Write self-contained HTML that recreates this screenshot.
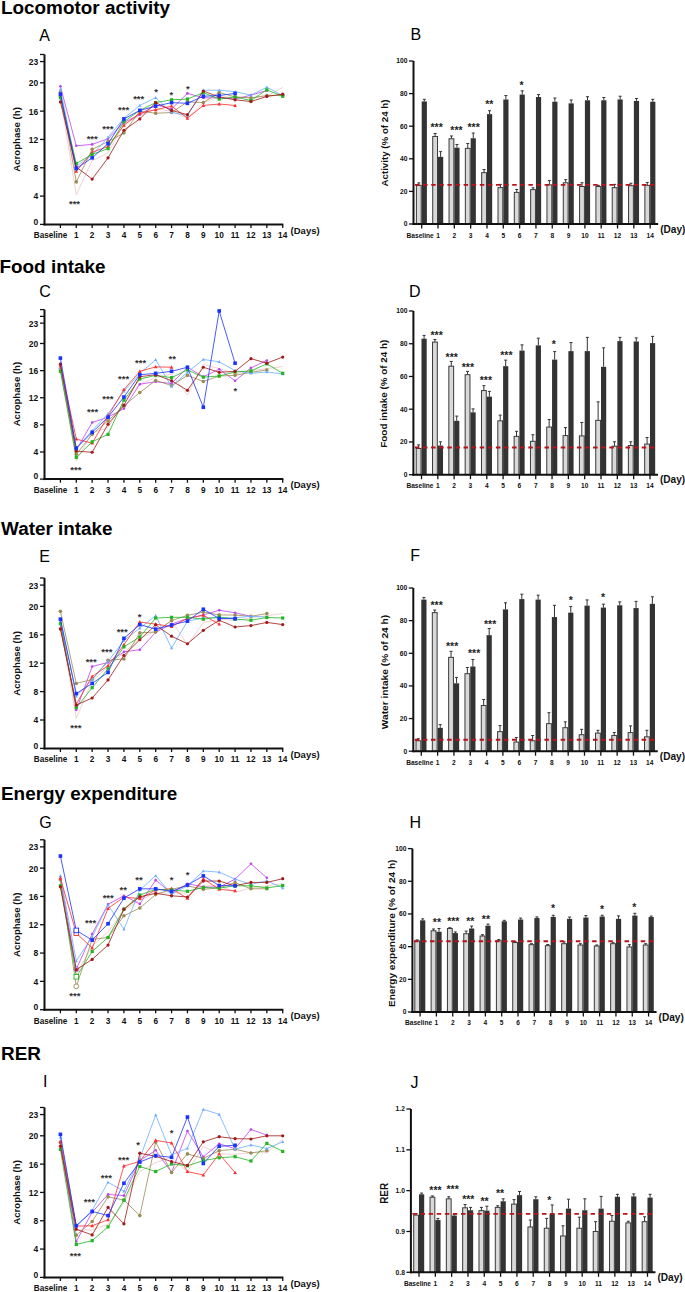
<!DOCTYPE html>
<html><head><meta charset="utf-8"><style>
html,body{margin:0;padding:0;background:#fff;width:685px;height:1292px;overflow:hidden}
svg{display:block}
text{font-family:"Liberation Sans", sans-serif}
</style></head><body>
<svg width="685" height="1292" viewBox="0 0 685 1292" font-family='"Liberation Sans", sans-serif'><text x="1.00" y="14.00" font-size="18.9" font-weight="bold" text-anchor="start" fill="#000">Locomotor activity</text>
<text x="-0.50" y="272.50" font-size="18.9" font-weight="bold" text-anchor="start" fill="#000">Food intake</text>
<text x="1.00" y="534.50" font-size="18.9" font-weight="bold" text-anchor="start" fill="#000">Water intake</text>
<text x="1.00" y="799.50" font-size="18.9" font-weight="bold" text-anchor="start" fill="#000">Energy expenditure</text>
<text x="1.00" y="1060.00" font-size="18.9" font-weight="bold" text-anchor="start" fill="#000">RER</text>
<text x="39.20" y="40.70" font-size="16" font-weight="normal" text-anchor="start" fill="#000">A</text>
<path d="M60.40 96.96 L76.28 194.66 L92.16 160.68 L108.04 152.89 L123.92 123.86 L139.80 115.37 L155.68 109.00 L171.56 111.12 L187.44 118.20 L203.32 102.62 L219.20 96.96 L235.08 96.96 L250.96 97.67 L266.84 96.25 L282.72 87.47" fill="none" stroke="#e6b4b4" stroke-width="0.6" stroke-linejoin="round"/>
<path d="M60.40 86.34 L76.28 145.81 L92.16 144.40 L108.04 138.73 L123.92 122.45 L139.80 114.66 L155.68 104.75 L171.56 109.00 L187.44 93.42 L203.32 97.88 L219.20 97.67 L235.08 99.08 L250.96 95.12 L266.84 90.59" fill="none" stroke="#c040f0" stroke-width="0.8" stroke-linejoin="round"/>
<circle cx="60.40" cy="86.34" r="1.30" fill="#c040f0"/>
<circle cx="76.28" cy="145.81" r="1.30" fill="#c040f0"/>
<circle cx="92.16" cy="144.40" r="1.30" fill="#c040f0"/>
<circle cx="108.04" cy="138.73" r="1.30" fill="#c040f0"/>
<circle cx="123.92" cy="122.45" r="1.30" fill="#c040f0"/>
<circle cx="139.80" cy="114.66" r="1.30" fill="#c040f0"/>
<circle cx="155.68" cy="104.75" r="1.30" fill="#c040f0"/>
<circle cx="171.56" cy="109.00" r="1.30" fill="#c040f0"/>
<circle cx="187.44" cy="93.42" r="1.30" fill="#c040f0"/>
<circle cx="203.32" cy="97.88" r="1.30" fill="#c040f0"/>
<circle cx="219.20" cy="97.67" r="1.30" fill="#c040f0"/>
<circle cx="235.08" cy="99.08" r="1.30" fill="#c040f0"/>
<circle cx="250.96" cy="95.12" r="1.30" fill="#c040f0"/>
<circle cx="266.84" cy="90.59" r="1.30" fill="#c040f0"/>
<path d="M60.40 92.00 L76.28 181.92 L92.16 149.35 L108.04 141.56 L123.92 133.07 L139.80 111.12 L155.68 113.24 L171.56 112.54 L187.44 101.92 L203.32 102.62 L219.20 92.36 L235.08 96.96 L250.96 97.88 L266.84 95.54 L282.72 95.54" fill="none" stroke="#9a8a55" stroke-width="0.8" stroke-linejoin="round"/>
<circle cx="60.40" cy="92.00" r="1.80" fill="#9a8a55"/>
<circle cx="76.28" cy="181.92" r="1.80" fill="#9a8a55"/>
<circle cx="92.16" cy="149.35" r="1.80" fill="#9a8a55"/>
<circle cx="108.04" cy="141.56" r="1.80" fill="#9a8a55"/>
<circle cx="123.92" cy="133.07" r="1.80" fill="#9a8a55"/>
<circle cx="139.80" cy="111.12" r="1.80" fill="#9a8a55"/>
<circle cx="155.68" cy="113.24" r="1.80" fill="#9a8a55"/>
<circle cx="171.56" cy="112.54" r="1.80" fill="#9a8a55"/>
<circle cx="187.44" cy="101.92" r="1.80" fill="#9a8a55"/>
<circle cx="203.32" cy="102.62" r="1.80" fill="#9a8a55"/>
<circle cx="219.20" cy="92.36" r="1.80" fill="#9a8a55"/>
<circle cx="235.08" cy="96.96" r="1.80" fill="#9a8a55"/>
<circle cx="250.96" cy="97.88" r="1.80" fill="#9a8a55"/>
<circle cx="266.84" cy="95.54" r="1.80" fill="#9a8a55"/>
<circle cx="282.72" cy="95.54" r="1.80" fill="#9a8a55"/>
<path d="M60.40 89.17 L76.28 166.34 L92.16 155.02 L108.04 137.32 L123.92 118.20 L139.80 105.46 L155.68 97.67 L171.56 112.54 L187.44 115.37 L203.32 90.23 L219.20 90.23 L235.08 91.65 L250.96 95.12 L266.84 87.19 L282.72 95.54" fill="none" stroke="#6aaeff" stroke-width="0.8" stroke-linejoin="round"/>
<path d="M60.40 87.41 L62.00 90.45 L58.80 90.45Z" fill="#6aaeff"/>
<path d="M76.28 164.58 L77.88 167.62 L74.68 167.62Z" fill="#6aaeff"/>
<path d="M92.16 153.26 L93.76 156.30 L90.56 156.30Z" fill="#6aaeff"/>
<path d="M108.04 135.56 L109.64 138.60 L106.44 138.60Z" fill="#6aaeff"/>
<path d="M123.92 116.44 L125.52 119.48 L122.32 119.48Z" fill="#6aaeff"/>
<path d="M139.80 103.70 L141.40 106.74 L138.20 106.74Z" fill="#6aaeff"/>
<path d="M155.68 95.91 L157.28 98.95 L154.08 98.95Z" fill="#6aaeff"/>
<path d="M171.56 110.78 L173.16 113.82 L169.96 113.82Z" fill="#6aaeff"/>
<path d="M187.44 113.61 L189.04 116.65 L185.84 116.65Z" fill="#6aaeff"/>
<path d="M203.32 88.47 L204.92 91.51 L201.72 91.51Z" fill="#6aaeff"/>
<path d="M219.20 88.47 L220.80 91.51 L217.60 91.51Z" fill="#6aaeff"/>
<path d="M235.08 89.89 L236.68 92.93 L233.48 92.93Z" fill="#6aaeff"/>
<path d="M250.96 93.36 L252.56 96.40 L249.36 96.40Z" fill="#6aaeff"/>
<path d="M266.84 85.43 L268.44 88.47 L265.24 88.47Z" fill="#6aaeff"/>
<path d="M282.72 93.78 L284.32 96.82 L281.12 96.82Z" fill="#6aaeff"/>
<path d="M60.40 95.54 L76.28 171.30 L92.16 152.18 L108.04 146.52 L123.92 125.28 L139.80 113.24 L155.68 109.70 L171.56 106.16 L187.44 118.20 L203.32 105.46 L219.20 104.04 L235.08 105.46" fill="none" stroke="#ff2a2a" stroke-width="0.8" stroke-linejoin="round"/>
<path d="M60.40 93.56 L62.20 96.98 L58.60 96.98Z" fill="#ff2a2a"/>
<path d="M76.28 169.32 L78.08 172.74 L74.48 172.74Z" fill="#ff2a2a"/>
<path d="M92.16 150.20 L93.96 153.62 L90.36 153.62Z" fill="#ff2a2a"/>
<path d="M108.04 144.54 L109.84 147.96 L106.24 147.96Z" fill="#ff2a2a"/>
<path d="M123.92 123.30 L125.72 126.72 L122.12 126.72Z" fill="#ff2a2a"/>
<path d="M139.80 111.26 L141.60 114.68 L138.00 114.68Z" fill="#ff2a2a"/>
<path d="M155.68 107.72 L157.48 111.14 L153.88 111.14Z" fill="#ff2a2a"/>
<path d="M171.56 104.18 L173.36 107.60 L169.76 107.60Z" fill="#ff2a2a"/>
<path d="M187.44 116.22 L189.24 119.64 L185.64 119.64Z" fill="#ff2a2a"/>
<path d="M203.32 103.48 L205.12 106.90 L201.52 106.90Z" fill="#ff2a2a"/>
<path d="M219.20 102.06 L221.00 105.48 L217.40 105.48Z" fill="#ff2a2a"/>
<path d="M235.08 103.48 L236.88 106.90 L233.28 106.90Z" fill="#ff2a2a"/>
<path d="M60.40 97.67 L76.28 163.51 L92.16 154.31 L108.04 148.64 L123.92 121.74 L139.80 110.41 L155.68 102.62 L171.56 99.79 L187.44 99.08 L203.32 92.71 L219.20 99.08 L235.08 96.96 L250.96 100.50 L266.84 89.88 L282.72 96.25" fill="none" stroke="#22b422" stroke-width="0.8" stroke-linejoin="round"/>
<rect x="58.80" y="96.07" width="3.20" height="3.20" fill="#22b422"/>
<rect x="74.68" y="161.91" width="3.20" height="3.20" fill="#22b422"/>
<rect x="90.56" y="152.71" width="3.20" height="3.20" fill="#22b422"/>
<rect x="106.44" y="147.04" width="3.20" height="3.20" fill="#22b422"/>
<rect x="122.32" y="120.14" width="3.20" height="3.20" fill="#22b422"/>
<rect x="138.20" y="108.81" width="3.20" height="3.20" fill="#22b422"/>
<rect x="154.08" y="101.02" width="3.20" height="3.20" fill="#22b422"/>
<rect x="169.96" y="98.19" width="3.20" height="3.20" fill="#22b422"/>
<rect x="185.84" y="97.48" width="3.20" height="3.20" fill="#22b422"/>
<rect x="201.72" y="91.11" width="3.20" height="3.20" fill="#22b422"/>
<rect x="217.60" y="97.48" width="3.20" height="3.20" fill="#22b422"/>
<rect x="233.48" y="95.36" width="3.20" height="3.20" fill="#22b422"/>
<rect x="249.36" y="98.90" width="3.20" height="3.20" fill="#22b422"/>
<rect x="265.24" y="88.28" width="3.20" height="3.20" fill="#22b422"/>
<rect x="281.12" y="94.65" width="3.20" height="3.20" fill="#22b422"/>
<path d="M60.40 101.92 L76.28 167.05 L92.16 179.09 L108.04 157.85 L123.92 130.24 L139.80 118.91 L155.68 102.62 L171.56 110.41 L187.44 114.66 L203.32 91.01 L219.20 96.96 L235.08 99.79 L250.96 101.56 L266.84 96.46 L282.72 94.13" fill="none" stroke="#a01818" stroke-width="0.8" stroke-linejoin="round"/>
<circle cx="60.40" cy="101.92" r="1.60" fill="#a01818"/>
<circle cx="76.28" cy="167.05" r="1.60" fill="#a01818"/>
<circle cx="92.16" cy="179.09" r="1.60" fill="#a01818"/>
<circle cx="108.04" cy="157.85" r="1.60" fill="#a01818"/>
<circle cx="123.92" cy="130.24" r="1.60" fill="#a01818"/>
<circle cx="139.80" cy="118.91" r="1.60" fill="#a01818"/>
<circle cx="155.68" cy="102.62" r="1.60" fill="#a01818"/>
<circle cx="171.56" cy="110.41" r="1.60" fill="#a01818"/>
<circle cx="187.44" cy="114.66" r="1.60" fill="#a01818"/>
<circle cx="203.32" cy="91.01" r="1.60" fill="#a01818"/>
<circle cx="219.20" cy="96.96" r="1.60" fill="#a01818"/>
<circle cx="235.08" cy="99.79" r="1.60" fill="#a01818"/>
<circle cx="250.96" cy="101.56" r="1.60" fill="#a01818"/>
<circle cx="266.84" cy="96.46" r="1.60" fill="#a01818"/>
<circle cx="282.72" cy="94.13" r="1.60" fill="#a01818"/>
<path d="M60.40 94.13 L76.28 168.47 L92.16 157.85 L108.04 143.69 L123.92 118.91 L139.80 110.41 L155.68 106.16 L171.56 102.62 L187.44 103.33 L203.32 96.25 L219.20 95.54 L235.08 93.42" fill="none" stroke="#1a32ff" stroke-width="0.8" stroke-linejoin="round"/>
<rect x="58.60" y="92.33" width="3.60" height="3.60" fill="#1a32ff"/>
<rect x="74.48" y="166.67" width="3.60" height="3.60" fill="#1a32ff"/>
<rect x="90.36" y="156.05" width="3.60" height="3.60" fill="#1a32ff"/>
<rect x="106.24" y="141.89" width="3.60" height="3.60" fill="#1a32ff"/>
<rect x="122.12" y="117.11" width="3.60" height="3.60" fill="#1a32ff"/>
<rect x="138.00" y="108.61" width="3.60" height="3.60" fill="#1a32ff"/>
<rect x="153.88" y="104.36" width="3.60" height="3.60" fill="#1a32ff"/>
<rect x="169.76" y="100.82" width="3.60" height="3.60" fill="#1a32ff"/>
<rect x="185.64" y="101.53" width="3.60" height="3.60" fill="#1a32ff"/>
<rect x="201.52" y="94.45" width="3.60" height="3.60" fill="#1a32ff"/>
<rect x="217.40" y="93.74" width="3.60" height="3.60" fill="#1a32ff"/>
<rect x="233.28" y="91.62" width="3.60" height="3.60" fill="#1a32ff"/>
<line x1="44.50" y1="54.48" x2="44.50" y2="225.40" stroke="#111" stroke-width="2"/>
<line x1="40.00" y1="54.48" x2="44.50" y2="54.48" stroke="#111" stroke-width="1.3"/>
<line x1="40.00" y1="224.40" x2="44.50" y2="224.40" stroke="#111" stroke-width="1.3"/>
<text transform="translate(38.20 224.60) scale(0.9 1)" font-size="9.4" font-weight="bold" text-anchor="end" fill="#111">0</text>
<line x1="40.00" y1="196.08" x2="44.50" y2="196.08" stroke="#111" stroke-width="1.3"/>
<text transform="translate(38.20 199.48) scale(0.9 1)" font-size="9.4" font-weight="bold" text-anchor="end" fill="#111">4</text>
<line x1="40.00" y1="167.76" x2="44.50" y2="167.76" stroke="#111" stroke-width="1.3"/>
<text transform="translate(38.20 171.16) scale(0.9 1)" font-size="9.4" font-weight="bold" text-anchor="end" fill="#111">8</text>
<line x1="40.00" y1="139.44" x2="44.50" y2="139.44" stroke="#111" stroke-width="1.3"/>
<text transform="translate(38.20 142.84) scale(0.9 1)" font-size="9.4" font-weight="bold" text-anchor="end" fill="#111">12</text>
<line x1="40.00" y1="111.12" x2="44.50" y2="111.12" stroke="#111" stroke-width="1.3"/>
<text transform="translate(38.20 114.52) scale(0.9 1)" font-size="9.4" font-weight="bold" text-anchor="end" fill="#111">16</text>
<line x1="40.00" y1="82.80" x2="44.50" y2="82.80" stroke="#111" stroke-width="1.3"/>
<text transform="translate(38.20 86.20) scale(0.9 1)" font-size="9.4" font-weight="bold" text-anchor="end" fill="#111">20</text>
<line x1="40.00" y1="61.56" x2="44.50" y2="61.56" stroke="#111" stroke-width="1.3"/>
<text transform="translate(38.20 64.96) scale(0.9 1)" font-size="9.4" font-weight="bold" text-anchor="end" fill="#111">23</text>
<line x1="43.50" y1="224.40" x2="283.32" y2="224.40" stroke="#111" stroke-width="2"/>
<line x1="60.40" y1="224.40" x2="60.40" y2="228.00" stroke="#111" stroke-width="1.3"/>
<line x1="76.28" y1="224.40" x2="76.28" y2="228.00" stroke="#111" stroke-width="1.3"/>
<text transform="translate(76.28 238.20) scale(0.88 1)" font-size="9.4" font-weight="bold" text-anchor="middle" fill="#111">1</text>
<line x1="92.16" y1="224.40" x2="92.16" y2="228.00" stroke="#111" stroke-width="1.3"/>
<text transform="translate(92.16 238.20) scale(0.88 1)" font-size="9.4" font-weight="bold" text-anchor="middle" fill="#111">2</text>
<line x1="108.04" y1="224.40" x2="108.04" y2="228.00" stroke="#111" stroke-width="1.3"/>
<text transform="translate(108.04 238.20) scale(0.88 1)" font-size="9.4" font-weight="bold" text-anchor="middle" fill="#111">3</text>
<line x1="123.92" y1="224.40" x2="123.92" y2="228.00" stroke="#111" stroke-width="1.3"/>
<text transform="translate(123.92 238.20) scale(0.88 1)" font-size="9.4" font-weight="bold" text-anchor="middle" fill="#111">4</text>
<line x1="139.80" y1="224.40" x2="139.80" y2="228.00" stroke="#111" stroke-width="1.3"/>
<text transform="translate(139.80 238.20) scale(0.88 1)" font-size="9.4" font-weight="bold" text-anchor="middle" fill="#111">5</text>
<line x1="155.68" y1="224.40" x2="155.68" y2="228.00" stroke="#111" stroke-width="1.3"/>
<text transform="translate(155.68 238.20) scale(0.88 1)" font-size="9.4" font-weight="bold" text-anchor="middle" fill="#111">6</text>
<line x1="171.56" y1="224.40" x2="171.56" y2="228.00" stroke="#111" stroke-width="1.3"/>
<text transform="translate(171.56 238.20) scale(0.88 1)" font-size="9.4" font-weight="bold" text-anchor="middle" fill="#111">7</text>
<line x1="187.44" y1="224.40" x2="187.44" y2="228.00" stroke="#111" stroke-width="1.3"/>
<text transform="translate(187.44 238.20) scale(0.88 1)" font-size="9.4" font-weight="bold" text-anchor="middle" fill="#111">8</text>
<line x1="203.32" y1="224.40" x2="203.32" y2="228.00" stroke="#111" stroke-width="1.3"/>
<text transform="translate(203.32 238.20) scale(0.88 1)" font-size="9.4" font-weight="bold" text-anchor="middle" fill="#111">9</text>
<line x1="219.20" y1="224.40" x2="219.20" y2="228.00" stroke="#111" stroke-width="1.3"/>
<text transform="translate(219.20 238.20) scale(0.88 1)" font-size="9.4" font-weight="bold" text-anchor="middle" fill="#111">10</text>
<line x1="235.08" y1="224.40" x2="235.08" y2="228.00" stroke="#111" stroke-width="1.3"/>
<text transform="translate(235.08 238.20) scale(0.88 1)" font-size="9.4" font-weight="bold" text-anchor="middle" fill="#111">11</text>
<line x1="250.96" y1="224.40" x2="250.96" y2="228.00" stroke="#111" stroke-width="1.3"/>
<text transform="translate(250.96 238.20) scale(0.88 1)" font-size="9.4" font-weight="bold" text-anchor="middle" fill="#111">12</text>
<line x1="266.84" y1="224.40" x2="266.84" y2="228.00" stroke="#111" stroke-width="1.3"/>
<text transform="translate(266.84 238.20) scale(0.88 1)" font-size="9.4" font-weight="bold" text-anchor="middle" fill="#111">13</text>
<line x1="282.72" y1="224.40" x2="282.72" y2="228.00" stroke="#111" stroke-width="1.3"/>
<text transform="translate(282.72 238.20) scale(0.88 1)" font-size="9.4" font-weight="bold" text-anchor="middle" fill="#111">14</text>
<text transform="translate(67.40 238.20) scale(0.91 1)" font-size="9.0" font-weight="bold" text-anchor="end" fill="#111">Baseline</text>
<text x="290.60" y="233.60" font-size="9.5" font-weight="bold" text-anchor="start" fill="#111">(Days)</text>
<text x="20.10" y="139.40" font-size="9.6" font-weight="bold" text-anchor="middle" fill="#111" transform="rotate(-90 20.10 139.40)">Acrophase (h)</text>
<text x="74.50" y="207.10" font-size="9.5" font-weight="bold" text-anchor="middle" fill="#333">***</text>
<text x="92.20" y="142.20" font-size="9.5" font-weight="bold" text-anchor="middle" fill="#333">***</text>
<text x="107.90" y="132.30" font-size="9.5" font-weight="bold" text-anchor="middle" fill="#333">***</text>
<text x="123.60" y="113.00" font-size="9.5" font-weight="bold" text-anchor="middle" fill="#333">***</text>
<text x="138.70" y="102.00" font-size="9.5" font-weight="bold" text-anchor="middle" fill="#333">***</text>
<text x="156.00" y="94.60" font-size="9.5" font-weight="bold" text-anchor="middle" fill="#333">*</text>
<text x="171.40" y="97.60" font-size="9.5" font-weight="bold" text-anchor="middle" fill="#333">*</text>
<text x="187.80" y="91.80" font-size="9.5" font-weight="bold" text-anchor="middle" fill="#333">*</text>
<text x="39.20" y="297.00" font-size="16" font-weight="normal" text-anchor="start" fill="#000">C</text>
<path d="M60.40 367.23 L76.28 460.79 L92.16 433.00 L108.04 427.57 L123.92 401.13 L139.80 384.18 L155.68 377.40 L171.56 374.01 L187.44 395.03 L203.32 364.52 L219.20 368.59 L235.08 374.01 L250.96 370.62 L266.84 368.59 L282.72 366.55" fill="none" stroke="#e6b4b4" stroke-width="0.6" stroke-linejoin="round"/>
<path d="M60.40 363.84 L76.28 449.95 L92.16 422.49 L108.04 417.20 L123.92 408.59 L139.80 384.18 L155.68 381.81 L171.56 383.50 L187.44 367.23 L203.32 376.72 L219.20 369.26 L235.08 380.79 L250.96 367.91 L266.84 360.45" fill="none" stroke="#c040f0" stroke-width="0.8" stroke-linejoin="round"/>
<circle cx="60.40" cy="363.84" r="1.30" fill="#c040f0"/>
<circle cx="76.28" cy="449.95" r="1.30" fill="#c040f0"/>
<circle cx="92.16" cy="422.49" r="1.30" fill="#c040f0"/>
<circle cx="108.04" cy="417.20" r="1.30" fill="#c040f0"/>
<circle cx="123.92" cy="408.59" r="1.30" fill="#c040f0"/>
<circle cx="139.80" cy="384.18" r="1.30" fill="#c040f0"/>
<circle cx="155.68" cy="381.81" r="1.30" fill="#c040f0"/>
<circle cx="171.56" cy="383.50" r="1.30" fill="#c040f0"/>
<circle cx="187.44" cy="367.23" r="1.30" fill="#c040f0"/>
<circle cx="203.32" cy="376.72" r="1.30" fill="#c040f0"/>
<circle cx="219.20" cy="369.26" r="1.30" fill="#c040f0"/>
<circle cx="235.08" cy="380.79" r="1.30" fill="#c040f0"/>
<circle cx="250.96" cy="367.91" r="1.30" fill="#c040f0"/>
<circle cx="266.84" cy="360.45" r="1.30" fill="#c040f0"/>
<path d="M60.40 368.59 L76.28 454.35 L92.16 434.35 L108.04 420.79 L123.92 405.88 L139.80 392.52 L155.68 380.45 L171.56 385.54 L187.44 375.37 L203.32 381.47 L219.20 376.04 L235.08 375.37 L250.96 372.31 L266.84 369.94" fill="none" stroke="#9a8a55" stroke-width="0.8" stroke-linejoin="round"/>
<circle cx="60.40" cy="368.59" r="1.80" fill="#9a8a55"/>
<circle cx="76.28" cy="454.35" r="1.80" fill="#9a8a55"/>
<circle cx="92.16" cy="434.35" r="1.80" fill="#9a8a55"/>
<circle cx="108.04" cy="420.79" r="1.80" fill="#9a8a55"/>
<circle cx="123.92" cy="405.88" r="1.80" fill="#9a8a55"/>
<circle cx="139.80" cy="392.52" r="1.80" fill="#9a8a55"/>
<circle cx="155.68" cy="380.45" r="1.80" fill="#9a8a55"/>
<circle cx="171.56" cy="385.54" r="1.80" fill="#9a8a55"/>
<circle cx="187.44" cy="375.37" r="1.80" fill="#9a8a55"/>
<circle cx="203.32" cy="381.47" r="1.80" fill="#9a8a55"/>
<circle cx="219.20" cy="376.04" r="1.80" fill="#9a8a55"/>
<circle cx="235.08" cy="375.37" r="1.80" fill="#9a8a55"/>
<circle cx="250.96" cy="372.31" r="1.80" fill="#9a8a55"/>
<circle cx="266.84" cy="369.94" r="1.80" fill="#9a8a55"/>
<path d="M60.40 367.23 L76.28 448.59 L92.16 430.62 L108.04 413.67 L123.92 391.30 L139.80 373.33 L155.68 359.77 L171.56 386.55 L187.44 372.31 L203.32 359.43 L219.20 361.81 L235.08 370.62 L250.96 373.33 L266.84 371.98 L282.72 374.01" fill="none" stroke="#6aaeff" stroke-width="0.8" stroke-linejoin="round"/>
<path d="M60.40 365.47 L62.00 368.51 L58.80 368.51Z" fill="#6aaeff"/>
<path d="M76.28 446.83 L77.88 449.87 L74.68 449.87Z" fill="#6aaeff"/>
<path d="M92.16 428.86 L93.76 431.90 L90.56 431.90Z" fill="#6aaeff"/>
<path d="M108.04 411.91 L109.64 414.95 L106.44 414.95Z" fill="#6aaeff"/>
<path d="M123.92 389.54 L125.52 392.58 L122.32 392.58Z" fill="#6aaeff"/>
<path d="M139.80 371.57 L141.40 374.61 L138.20 374.61Z" fill="#6aaeff"/>
<path d="M155.68 358.01 L157.28 361.05 L154.08 361.05Z" fill="#6aaeff"/>
<path d="M171.56 384.79 L173.16 387.83 L169.96 387.83Z" fill="#6aaeff"/>
<path d="M187.44 370.56 L189.04 373.59 L185.84 373.59Z" fill="#6aaeff"/>
<path d="M203.32 357.67 L204.92 360.71 L201.72 360.71Z" fill="#6aaeff"/>
<path d="M219.20 360.05 L220.80 363.09 L217.60 363.09Z" fill="#6aaeff"/>
<path d="M235.08 368.86 L236.68 371.90 L233.48 371.90Z" fill="#6aaeff"/>
<path d="M250.96 371.57 L252.56 374.61 L249.36 374.61Z" fill="#6aaeff"/>
<path d="M266.84 370.22 L268.44 373.26 L265.24 373.26Z" fill="#6aaeff"/>
<path d="M282.72 372.25 L284.32 375.29 L281.12 375.29Z" fill="#6aaeff"/>
<path d="M60.40 365.20 L76.28 439.10 L92.16 443.17 L108.04 416.05 L123.92 389.60 L139.80 371.30 L155.68 366.89 L171.56 367.23" fill="none" stroke="#ff2a2a" stroke-width="0.8" stroke-linejoin="round"/>
<path d="M60.40 363.22 L62.20 366.64 L58.60 366.64Z" fill="#ff2a2a"/>
<path d="M76.28 437.12 L78.08 440.54 L74.48 440.54Z" fill="#ff2a2a"/>
<path d="M92.16 441.19 L93.96 444.61 L90.36 444.61Z" fill="#ff2a2a"/>
<path d="M108.04 414.07 L109.84 417.49 L106.24 417.49Z" fill="#ff2a2a"/>
<path d="M123.92 387.62 L125.72 391.04 L122.12 391.04Z" fill="#ff2a2a"/>
<path d="M139.80 369.32 L141.60 372.74 L138.00 372.74Z" fill="#ff2a2a"/>
<path d="M155.68 364.91 L157.48 368.33 L153.88 368.33Z" fill="#ff2a2a"/>
<path d="M171.56 365.25 L173.36 368.67 L169.76 368.67Z" fill="#ff2a2a"/>
<path d="M60.40 371.30 L76.28 457.40 L92.16 441.81 L108.04 434.35 L123.92 400.11 L139.80 379.10 L155.68 375.37 L171.56 377.67 L187.44 369.94 L203.32 377.13 L219.20 376.04 L235.08 371.98 L250.96 370.89 L266.84 363.84 L282.72 373.33" fill="none" stroke="#22b422" stroke-width="0.8" stroke-linejoin="round"/>
<rect x="58.80" y="369.70" width="3.20" height="3.20" fill="#22b422"/>
<rect x="74.68" y="455.80" width="3.20" height="3.20" fill="#22b422"/>
<rect x="90.56" y="440.21" width="3.20" height="3.20" fill="#22b422"/>
<rect x="106.44" y="432.75" width="3.20" height="3.20" fill="#22b422"/>
<rect x="122.32" y="398.51" width="3.20" height="3.20" fill="#22b422"/>
<rect x="138.20" y="377.50" width="3.20" height="3.20" fill="#22b422"/>
<rect x="154.08" y="373.77" width="3.20" height="3.20" fill="#22b422"/>
<rect x="169.96" y="376.07" width="3.20" height="3.20" fill="#22b422"/>
<rect x="185.84" y="368.34" width="3.20" height="3.20" fill="#22b422"/>
<rect x="201.72" y="375.53" width="3.20" height="3.20" fill="#22b422"/>
<rect x="217.60" y="374.44" width="3.20" height="3.20" fill="#22b422"/>
<rect x="233.48" y="370.38" width="3.20" height="3.20" fill="#22b422"/>
<rect x="249.36" y="369.29" width="3.20" height="3.20" fill="#22b422"/>
<rect x="265.24" y="362.24" width="3.20" height="3.20" fill="#22b422"/>
<rect x="281.12" y="371.73" width="3.20" height="3.20" fill="#22b422"/>
<path d="M60.40 364.18 L76.28 451.17 L92.16 452.25 L108.04 424.18 L123.92 405.20 L139.80 376.72 L155.68 374.69 L171.56 380.79 L187.44 390.28 L203.32 367.23 L219.20 372.31 L235.08 371.30 L250.96 358.69 L266.84 363.16 L282.72 357.06" fill="none" stroke="#a01818" stroke-width="0.8" stroke-linejoin="round"/>
<circle cx="60.40" cy="364.18" r="1.60" fill="#a01818"/>
<circle cx="76.28" cy="451.17" r="1.60" fill="#a01818"/>
<circle cx="92.16" cy="452.25" r="1.60" fill="#a01818"/>
<circle cx="108.04" cy="424.18" r="1.60" fill="#a01818"/>
<circle cx="123.92" cy="405.20" r="1.60" fill="#a01818"/>
<circle cx="139.80" cy="376.72" r="1.60" fill="#a01818"/>
<circle cx="155.68" cy="374.69" r="1.60" fill="#a01818"/>
<circle cx="171.56" cy="380.79" r="1.60" fill="#a01818"/>
<circle cx="187.44" cy="390.28" r="1.60" fill="#a01818"/>
<circle cx="203.32" cy="367.23" r="1.60" fill="#a01818"/>
<circle cx="219.20" cy="372.31" r="1.60" fill="#a01818"/>
<circle cx="235.08" cy="371.30" r="1.60" fill="#a01818"/>
<circle cx="250.96" cy="358.69" r="1.60" fill="#a01818"/>
<circle cx="266.84" cy="363.16" r="1.60" fill="#a01818"/>
<circle cx="282.72" cy="357.06" r="1.60" fill="#a01818"/>
<path d="M60.40 358.08 L76.28 448.12 L92.16 432.32 L108.04 417.20 L123.92 397.06 L139.80 374.69 L155.68 373.33 L171.56 371.30 L187.44 367.23 L203.32 407.23 L219.20 310.96 L235.08 363.16" fill="none" stroke="#1a32ff" stroke-width="0.8" stroke-linejoin="round"/>
<rect x="58.60" y="356.28" width="3.60" height="3.60" fill="#1a32ff"/>
<rect x="74.48" y="446.32" width="3.60" height="3.60" fill="#1a32ff"/>
<rect x="90.36" y="430.52" width="3.60" height="3.60" fill="#1a32ff"/>
<rect x="106.24" y="415.40" width="3.60" height="3.60" fill="#1a32ff"/>
<rect x="122.12" y="395.26" width="3.60" height="3.60" fill="#1a32ff"/>
<rect x="138.00" y="372.89" width="3.60" height="3.60" fill="#1a32ff"/>
<rect x="153.88" y="371.53" width="3.60" height="3.60" fill="#1a32ff"/>
<rect x="169.76" y="369.50" width="3.60" height="3.60" fill="#1a32ff"/>
<rect x="185.64" y="365.43" width="3.60" height="3.60" fill="#1a32ff"/>
<rect x="201.52" y="405.43" width="3.60" height="3.60" fill="#1a32ff"/>
<rect x="217.40" y="309.16" width="3.60" height="3.60" fill="#1a32ff"/>
<rect x="233.28" y="361.36" width="3.60" height="3.60" fill="#1a32ff"/>
<line x1="44.50" y1="309.60" x2="44.50" y2="480.10" stroke="#111" stroke-width="2"/>
<line x1="40.00" y1="309.60" x2="44.50" y2="309.60" stroke="#111" stroke-width="1.3"/>
<line x1="40.00" y1="316.38" x2="44.50" y2="316.38" stroke="#111" stroke-width="1.3"/>
<line x1="40.00" y1="479.10" x2="44.50" y2="479.10" stroke="#111" stroke-width="1.3"/>
<text transform="translate(38.20 479.30) scale(0.9 1)" font-size="9.4" font-weight="bold" text-anchor="end" fill="#111">0</text>
<line x1="40.00" y1="451.98" x2="44.50" y2="451.98" stroke="#111" stroke-width="1.3"/>
<text transform="translate(38.20 455.38) scale(0.9 1)" font-size="9.4" font-weight="bold" text-anchor="end" fill="#111">4</text>
<line x1="40.00" y1="424.86" x2="44.50" y2="424.86" stroke="#111" stroke-width="1.3"/>
<text transform="translate(38.20 428.26) scale(0.9 1)" font-size="9.4" font-weight="bold" text-anchor="end" fill="#111">8</text>
<line x1="40.00" y1="397.74" x2="44.50" y2="397.74" stroke="#111" stroke-width="1.3"/>
<text transform="translate(38.20 401.14) scale(0.9 1)" font-size="9.4" font-weight="bold" text-anchor="end" fill="#111">12</text>
<line x1="40.00" y1="370.62" x2="44.50" y2="370.62" stroke="#111" stroke-width="1.3"/>
<text transform="translate(38.20 374.02) scale(0.9 1)" font-size="9.4" font-weight="bold" text-anchor="end" fill="#111">16</text>
<line x1="40.00" y1="343.50" x2="44.50" y2="343.50" stroke="#111" stroke-width="1.3"/>
<text transform="translate(38.20 346.90) scale(0.9 1)" font-size="9.4" font-weight="bold" text-anchor="end" fill="#111">20</text>
<line x1="40.00" y1="323.16" x2="44.50" y2="323.16" stroke="#111" stroke-width="1.3"/>
<text transform="translate(38.20 326.56) scale(0.9 1)" font-size="9.4" font-weight="bold" text-anchor="end" fill="#111">23</text>
<line x1="43.50" y1="479.10" x2="283.32" y2="479.10" stroke="#111" stroke-width="2"/>
<line x1="60.40" y1="479.10" x2="60.40" y2="482.70" stroke="#111" stroke-width="1.3"/>
<line x1="76.28" y1="479.10" x2="76.28" y2="482.70" stroke="#111" stroke-width="1.3"/>
<text transform="translate(76.28 492.90) scale(0.88 1)" font-size="9.4" font-weight="bold" text-anchor="middle" fill="#111">1</text>
<line x1="92.16" y1="479.10" x2="92.16" y2="482.70" stroke="#111" stroke-width="1.3"/>
<text transform="translate(92.16 492.90) scale(0.88 1)" font-size="9.4" font-weight="bold" text-anchor="middle" fill="#111">2</text>
<line x1="108.04" y1="479.10" x2="108.04" y2="482.70" stroke="#111" stroke-width="1.3"/>
<text transform="translate(108.04 492.90) scale(0.88 1)" font-size="9.4" font-weight="bold" text-anchor="middle" fill="#111">3</text>
<line x1="123.92" y1="479.10" x2="123.92" y2="482.70" stroke="#111" stroke-width="1.3"/>
<text transform="translate(123.92 492.90) scale(0.88 1)" font-size="9.4" font-weight="bold" text-anchor="middle" fill="#111">4</text>
<line x1="139.80" y1="479.10" x2="139.80" y2="482.70" stroke="#111" stroke-width="1.3"/>
<text transform="translate(139.80 492.90) scale(0.88 1)" font-size="9.4" font-weight="bold" text-anchor="middle" fill="#111">5</text>
<line x1="155.68" y1="479.10" x2="155.68" y2="482.70" stroke="#111" stroke-width="1.3"/>
<text transform="translate(155.68 492.90) scale(0.88 1)" font-size="9.4" font-weight="bold" text-anchor="middle" fill="#111">6</text>
<line x1="171.56" y1="479.10" x2="171.56" y2="482.70" stroke="#111" stroke-width="1.3"/>
<text transform="translate(171.56 492.90) scale(0.88 1)" font-size="9.4" font-weight="bold" text-anchor="middle" fill="#111">7</text>
<line x1="187.44" y1="479.10" x2="187.44" y2="482.70" stroke="#111" stroke-width="1.3"/>
<text transform="translate(187.44 492.90) scale(0.88 1)" font-size="9.4" font-weight="bold" text-anchor="middle" fill="#111">8</text>
<line x1="203.32" y1="479.10" x2="203.32" y2="482.70" stroke="#111" stroke-width="1.3"/>
<text transform="translate(203.32 492.90) scale(0.88 1)" font-size="9.4" font-weight="bold" text-anchor="middle" fill="#111">9</text>
<line x1="219.20" y1="479.10" x2="219.20" y2="482.70" stroke="#111" stroke-width="1.3"/>
<text transform="translate(219.20 492.90) scale(0.88 1)" font-size="9.4" font-weight="bold" text-anchor="middle" fill="#111">10</text>
<line x1="235.08" y1="479.10" x2="235.08" y2="482.70" stroke="#111" stroke-width="1.3"/>
<text transform="translate(235.08 492.90) scale(0.88 1)" font-size="9.4" font-weight="bold" text-anchor="middle" fill="#111">11</text>
<line x1="250.96" y1="479.10" x2="250.96" y2="482.70" stroke="#111" stroke-width="1.3"/>
<text transform="translate(250.96 492.90) scale(0.88 1)" font-size="9.4" font-weight="bold" text-anchor="middle" fill="#111">12</text>
<line x1="266.84" y1="479.10" x2="266.84" y2="482.70" stroke="#111" stroke-width="1.3"/>
<text transform="translate(266.84 492.90) scale(0.88 1)" font-size="9.4" font-weight="bold" text-anchor="middle" fill="#111">13</text>
<line x1="282.72" y1="479.10" x2="282.72" y2="482.70" stroke="#111" stroke-width="1.3"/>
<text transform="translate(282.72 492.90) scale(0.88 1)" font-size="9.4" font-weight="bold" text-anchor="middle" fill="#111">14</text>
<text transform="translate(67.40 492.90) scale(0.91 1)" font-size="9.0" font-weight="bold" text-anchor="end" fill="#111">Baseline</text>
<text x="290.60" y="488.30" font-size="9.5" font-weight="bold" text-anchor="start" fill="#111">(Days)</text>
<text x="20.10" y="394.10" font-size="9.6" font-weight="bold" text-anchor="middle" fill="#111" transform="rotate(-90 20.10 394.10)">Acrophase (h)</text>
<text x="75.90" y="473.10" font-size="9.5" font-weight="bold" text-anchor="middle" fill="#333">***</text>
<text x="92.60" y="415.00" font-size="9.5" font-weight="bold" text-anchor="middle" fill="#333">***</text>
<text x="107.80" y="402.40" font-size="9.5" font-weight="bold" text-anchor="middle" fill="#333">***</text>
<text x="123.60" y="381.70" font-size="9.5" font-weight="bold" text-anchor="middle" fill="#333">***</text>
<text x="140.60" y="366.30" font-size="9.5" font-weight="bold" text-anchor="middle" fill="#333">***</text>
<text x="172.30" y="361.60" font-size="9.5" font-weight="bold" text-anchor="middle" fill="#333">**</text>
<text x="235.30" y="394.20" font-size="9.5" font-weight="bold" text-anchor="middle" fill="#333">*</text>
<text x="39.20" y="561.70" font-size="16" font-weight="normal" text-anchor="start" fill="#000">E</text>
<path d="M60.40 624.15 L76.28 718.30 L92.16 680.95 L108.04 666.75 L123.92 652.55 L139.80 638.35 L155.68 631.25 L171.56 620.60 L187.44 644.74 L203.32 622.73 L219.20 619.18 L235.08 620.60 L250.96 617.76 L266.84 615.63 L282.72 613.50" fill="none" stroke="#e6b4b4" stroke-width="0.6" stroke-linejoin="round"/>
<path d="M60.40 620.60 L76.28 710.06 L92.16 666.47 L108.04 662.49 L123.92 651.84 L139.80 649.71 L155.68 632.31 L171.56 624.15 L187.44 618.47 L203.32 614.92 L219.20 610.23 L235.08 612.79 L250.96 616.34" fill="none" stroke="#c040f0" stroke-width="0.8" stroke-linejoin="round"/>
<circle cx="60.40" cy="620.60" r="1.30" fill="#c040f0"/>
<circle cx="76.28" cy="710.06" r="1.30" fill="#c040f0"/>
<circle cx="92.16" cy="666.47" r="1.30" fill="#c040f0"/>
<circle cx="108.04" cy="662.49" r="1.30" fill="#c040f0"/>
<circle cx="123.92" cy="651.84" r="1.30" fill="#c040f0"/>
<circle cx="139.80" cy="649.71" r="1.30" fill="#c040f0"/>
<circle cx="155.68" cy="632.31" r="1.30" fill="#c040f0"/>
<circle cx="171.56" cy="624.15" r="1.30" fill="#c040f0"/>
<circle cx="187.44" cy="618.47" r="1.30" fill="#c040f0"/>
<circle cx="203.32" cy="614.92" r="1.30" fill="#c040f0"/>
<circle cx="219.20" cy="610.23" r="1.30" fill="#c040f0"/>
<circle cx="235.08" cy="612.79" r="1.30" fill="#c040f0"/>
<circle cx="250.96" cy="616.34" r="1.30" fill="#c040f0"/>
<path d="M60.40 611.37 L76.28 683.43 L92.16 679.53 L108.04 660.36 L123.92 658.94 L139.80 632.88 L155.68 631.96 L171.56 620.60 L187.44 615.42 L203.32 612.08 L219.20 614.92 L235.08 615.06 L250.96 616.34 L266.84 613.50" fill="none" stroke="#9a8a55" stroke-width="0.8" stroke-linejoin="round"/>
<circle cx="60.40" cy="611.37" r="1.80" fill="#9a8a55"/>
<circle cx="76.28" cy="683.43" r="1.80" fill="#9a8a55"/>
<circle cx="92.16" cy="679.53" r="1.80" fill="#9a8a55"/>
<circle cx="108.04" cy="660.36" r="1.80" fill="#9a8a55"/>
<circle cx="123.92" cy="658.94" r="1.80" fill="#9a8a55"/>
<circle cx="139.80" cy="632.88" r="1.80" fill="#9a8a55"/>
<circle cx="155.68" cy="631.96" r="1.80" fill="#9a8a55"/>
<circle cx="171.56" cy="620.60" r="1.80" fill="#9a8a55"/>
<circle cx="187.44" cy="615.42" r="1.80" fill="#9a8a55"/>
<circle cx="203.32" cy="612.08" r="1.80" fill="#9a8a55"/>
<circle cx="219.20" cy="614.92" r="1.80" fill="#9a8a55"/>
<circle cx="235.08" cy="615.06" r="1.80" fill="#9a8a55"/>
<circle cx="250.96" cy="616.34" r="1.80" fill="#9a8a55"/>
<circle cx="266.84" cy="613.50" r="1.80" fill="#9a8a55"/>
<path d="M60.40 618.83 L76.28 696.22 L92.16 679.53 L108.04 661.42 L123.92 640.48 L139.80 628.13 L155.68 615.63 L171.56 648.01 L187.44 621.31 L203.32 617.76 L219.20 617.76 L235.08 617.76 L250.96 616.34 L266.84 617.05" fill="none" stroke="#6aaeff" stroke-width="0.8" stroke-linejoin="round"/>
<path d="M60.40 617.07 L62.00 620.11 L58.80 620.11Z" fill="#6aaeff"/>
<path d="M76.28 694.46 L77.88 697.50 L74.68 697.50Z" fill="#6aaeff"/>
<path d="M92.16 677.77 L93.76 680.81 L90.56 680.81Z" fill="#6aaeff"/>
<path d="M108.04 659.66 L109.64 662.70 L106.44 662.70Z" fill="#6aaeff"/>
<path d="M123.92 638.72 L125.52 641.76 L122.32 641.76Z" fill="#6aaeff"/>
<path d="M139.80 626.37 L141.40 629.41 L138.20 629.41Z" fill="#6aaeff"/>
<path d="M155.68 613.87 L157.28 616.91 L154.08 616.91Z" fill="#6aaeff"/>
<path d="M171.56 646.25 L173.16 649.29 L169.96 649.29Z" fill="#6aaeff"/>
<path d="M187.44 619.55 L189.04 622.59 L185.84 622.59Z" fill="#6aaeff"/>
<path d="M203.32 616.00 L204.92 619.04 L201.72 619.04Z" fill="#6aaeff"/>
<path d="M219.20 616.00 L220.80 619.04 L217.60 619.04Z" fill="#6aaeff"/>
<path d="M235.08 616.00 L236.68 619.04 L233.48 619.04Z" fill="#6aaeff"/>
<path d="M250.96 614.58 L252.56 617.62 L249.36 617.62Z" fill="#6aaeff"/>
<path d="M266.84 615.29 L268.44 618.33 L265.24 618.33Z" fill="#6aaeff"/>
<path d="M60.40 627.70 L76.28 704.17 L92.16 676.41 L108.04 665.76 L123.92 644.74 L139.80 622.02 L155.68 624.15 L171.56 626.49 L187.44 618.47 L203.32 615.27 L219.20 624.15" fill="none" stroke="#ff2a2a" stroke-width="0.8" stroke-linejoin="round"/>
<path d="M60.40 625.72 L62.20 629.14 L58.60 629.14Z" fill="#ff2a2a"/>
<path d="M76.28 702.19 L78.08 705.61 L74.48 705.61Z" fill="#ff2a2a"/>
<path d="M92.16 674.43 L93.96 677.85 L90.36 677.85Z" fill="#ff2a2a"/>
<path d="M108.04 663.78 L109.84 667.20 L106.24 667.20Z" fill="#ff2a2a"/>
<path d="M123.92 642.76 L125.72 646.18 L122.12 646.18Z" fill="#ff2a2a"/>
<path d="M139.80 620.04 L141.60 623.46 L138.00 623.46Z" fill="#ff2a2a"/>
<path d="M155.68 622.17 L157.48 625.59 L153.88 625.59Z" fill="#ff2a2a"/>
<path d="M171.56 624.51 L173.36 627.93 L169.76 627.93Z" fill="#ff2a2a"/>
<path d="M187.44 616.49 L189.24 619.91 L185.64 619.91Z" fill="#ff2a2a"/>
<path d="M203.32 613.29 L205.12 616.72 L201.52 616.72Z" fill="#ff2a2a"/>
<path d="M219.20 622.17 L221.00 625.59 L217.40 625.59Z" fill="#ff2a2a"/>
<path d="M60.40 623.65 L76.28 707.72 L92.16 687.69 L108.04 668.88 L123.92 646.87 L139.80 636.93 L155.68 618.04 L171.56 617.33 L187.44 617.33 L203.32 619.18 L219.20 617.05 L235.08 619.18 L250.96 620.25 L266.84 617.48 L282.72 618.04" fill="none" stroke="#22b422" stroke-width="0.8" stroke-linejoin="round"/>
<rect x="58.80" y="622.05" width="3.20" height="3.20" fill="#22b422"/>
<rect x="74.68" y="706.12" width="3.20" height="3.20" fill="#22b422"/>
<rect x="90.56" y="686.09" width="3.20" height="3.20" fill="#22b422"/>
<rect x="106.44" y="667.28" width="3.20" height="3.20" fill="#22b422"/>
<rect x="122.32" y="645.27" width="3.20" height="3.20" fill="#22b422"/>
<rect x="138.20" y="635.33" width="3.20" height="3.20" fill="#22b422"/>
<rect x="154.08" y="616.44" width="3.20" height="3.20" fill="#22b422"/>
<rect x="169.96" y="615.73" width="3.20" height="3.20" fill="#22b422"/>
<rect x="185.84" y="615.73" width="3.20" height="3.20" fill="#22b422"/>
<rect x="201.72" y="617.58" width="3.20" height="3.20" fill="#22b422"/>
<rect x="217.60" y="615.45" width="3.20" height="3.20" fill="#22b422"/>
<rect x="233.48" y="617.58" width="3.20" height="3.20" fill="#22b422"/>
<rect x="249.36" y="618.64" width="3.20" height="3.20" fill="#22b422"/>
<rect x="265.24" y="615.88" width="3.20" height="3.20" fill="#22b422"/>
<rect x="281.12" y="616.44" width="3.20" height="3.20" fill="#22b422"/>
<path d="M60.40 629.12 L76.28 705.09 L92.16 697.99 L108.04 679.96 L123.92 655.39 L139.80 639.77 L155.68 624.86 L171.56 636.22 L187.44 643.75 L203.32 630.33 L219.20 620.25 L235.08 626.99 L250.96 625.57 L266.84 622.45 L282.72 624.58" fill="none" stroke="#a01818" stroke-width="0.8" stroke-linejoin="round"/>
<circle cx="60.40" cy="629.12" r="1.60" fill="#a01818"/>
<circle cx="76.28" cy="705.09" r="1.60" fill="#a01818"/>
<circle cx="92.16" cy="697.99" r="1.60" fill="#a01818"/>
<circle cx="108.04" cy="679.96" r="1.60" fill="#a01818"/>
<circle cx="123.92" cy="655.39" r="1.60" fill="#a01818"/>
<circle cx="139.80" cy="639.77" r="1.60" fill="#a01818"/>
<circle cx="155.68" cy="624.86" r="1.60" fill="#a01818"/>
<circle cx="171.56" cy="636.22" r="1.60" fill="#a01818"/>
<circle cx="187.44" cy="643.75" r="1.60" fill="#a01818"/>
<circle cx="203.32" cy="630.33" r="1.60" fill="#a01818"/>
<circle cx="219.20" cy="620.25" r="1.60" fill="#a01818"/>
<circle cx="235.08" cy="626.99" r="1.60" fill="#a01818"/>
<circle cx="250.96" cy="625.57" r="1.60" fill="#a01818"/>
<circle cx="266.84" cy="622.45" r="1.60" fill="#a01818"/>
<circle cx="282.72" cy="624.58" r="1.60" fill="#a01818"/>
<path d="M60.40 619.18 L76.28 693.59 L92.16 683.43 L108.04 672.43 L123.92 638.35 L139.80 624.58 L155.68 629.12 L171.56 625.00 L187.44 621.17 L203.32 609.24 L219.20 618.47 L235.08 618.61" fill="none" stroke="#1a32ff" stroke-width="0.8" stroke-linejoin="round"/>
<rect x="58.60" y="617.38" width="3.60" height="3.60" fill="#1a32ff"/>
<rect x="74.48" y="691.79" width="3.60" height="3.60" fill="#1a32ff"/>
<rect x="90.36" y="681.63" width="3.60" height="3.60" fill="#1a32ff"/>
<rect x="106.24" y="670.63" width="3.60" height="3.60" fill="#1a32ff"/>
<rect x="122.12" y="636.55" width="3.60" height="3.60" fill="#1a32ff"/>
<rect x="138.00" y="622.78" width="3.60" height="3.60" fill="#1a32ff"/>
<rect x="153.88" y="627.32" width="3.60" height="3.60" fill="#1a32ff"/>
<rect x="169.76" y="623.20" width="3.60" height="3.60" fill="#1a32ff"/>
<rect x="185.64" y="619.37" width="3.60" height="3.60" fill="#1a32ff"/>
<rect x="201.52" y="607.44" width="3.60" height="3.60" fill="#1a32ff"/>
<rect x="217.40" y="616.67" width="3.60" height="3.60" fill="#1a32ff"/>
<rect x="233.28" y="616.81" width="3.60" height="3.60" fill="#1a32ff"/>
<line x1="44.50" y1="578.00" x2="44.50" y2="749.40" stroke="#111" stroke-width="2"/>
<line x1="40.00" y1="578.00" x2="44.50" y2="578.00" stroke="#111" stroke-width="1.3"/>
<line x1="40.00" y1="748.40" x2="44.50" y2="748.40" stroke="#111" stroke-width="1.3"/>
<text transform="translate(38.20 748.60) scale(0.9 1)" font-size="9.4" font-weight="bold" text-anchor="end" fill="#111">0</text>
<line x1="40.00" y1="720.00" x2="44.50" y2="720.00" stroke="#111" stroke-width="1.3"/>
<text transform="translate(38.20 723.40) scale(0.9 1)" font-size="9.4" font-weight="bold" text-anchor="end" fill="#111">4</text>
<line x1="40.00" y1="691.60" x2="44.50" y2="691.60" stroke="#111" stroke-width="1.3"/>
<text transform="translate(38.20 695.00) scale(0.9 1)" font-size="9.4" font-weight="bold" text-anchor="end" fill="#111">8</text>
<line x1="40.00" y1="663.20" x2="44.50" y2="663.20" stroke="#111" stroke-width="1.3"/>
<text transform="translate(38.20 666.60) scale(0.9 1)" font-size="9.4" font-weight="bold" text-anchor="end" fill="#111">12</text>
<line x1="40.00" y1="634.80" x2="44.50" y2="634.80" stroke="#111" stroke-width="1.3"/>
<text transform="translate(38.20 638.20) scale(0.9 1)" font-size="9.4" font-weight="bold" text-anchor="end" fill="#111">16</text>
<line x1="40.00" y1="606.40" x2="44.50" y2="606.40" stroke="#111" stroke-width="1.3"/>
<text transform="translate(38.20 609.80) scale(0.9 1)" font-size="9.4" font-weight="bold" text-anchor="end" fill="#111">20</text>
<line x1="40.00" y1="585.10" x2="44.50" y2="585.10" stroke="#111" stroke-width="1.3"/>
<text transform="translate(38.20 588.50) scale(0.9 1)" font-size="9.4" font-weight="bold" text-anchor="end" fill="#111">23</text>
<line x1="43.50" y1="748.40" x2="283.32" y2="748.40" stroke="#111" stroke-width="2"/>
<line x1="60.40" y1="748.40" x2="60.40" y2="752.00" stroke="#111" stroke-width="1.3"/>
<line x1="76.28" y1="748.40" x2="76.28" y2="752.00" stroke="#111" stroke-width="1.3"/>
<text transform="translate(76.28 762.20) scale(0.88 1)" font-size="9.4" font-weight="bold" text-anchor="middle" fill="#111">1</text>
<line x1="92.16" y1="748.40" x2="92.16" y2="752.00" stroke="#111" stroke-width="1.3"/>
<text transform="translate(92.16 762.20) scale(0.88 1)" font-size="9.4" font-weight="bold" text-anchor="middle" fill="#111">2</text>
<line x1="108.04" y1="748.40" x2="108.04" y2="752.00" stroke="#111" stroke-width="1.3"/>
<text transform="translate(108.04 762.20) scale(0.88 1)" font-size="9.4" font-weight="bold" text-anchor="middle" fill="#111">3</text>
<line x1="123.92" y1="748.40" x2="123.92" y2="752.00" stroke="#111" stroke-width="1.3"/>
<text transform="translate(123.92 762.20) scale(0.88 1)" font-size="9.4" font-weight="bold" text-anchor="middle" fill="#111">4</text>
<line x1="139.80" y1="748.40" x2="139.80" y2="752.00" stroke="#111" stroke-width="1.3"/>
<text transform="translate(139.80 762.20) scale(0.88 1)" font-size="9.4" font-weight="bold" text-anchor="middle" fill="#111">5</text>
<line x1="155.68" y1="748.40" x2="155.68" y2="752.00" stroke="#111" stroke-width="1.3"/>
<text transform="translate(155.68 762.20) scale(0.88 1)" font-size="9.4" font-weight="bold" text-anchor="middle" fill="#111">6</text>
<line x1="171.56" y1="748.40" x2="171.56" y2="752.00" stroke="#111" stroke-width="1.3"/>
<text transform="translate(171.56 762.20) scale(0.88 1)" font-size="9.4" font-weight="bold" text-anchor="middle" fill="#111">7</text>
<line x1="187.44" y1="748.40" x2="187.44" y2="752.00" stroke="#111" stroke-width="1.3"/>
<text transform="translate(187.44 762.20) scale(0.88 1)" font-size="9.4" font-weight="bold" text-anchor="middle" fill="#111">8</text>
<line x1="203.32" y1="748.40" x2="203.32" y2="752.00" stroke="#111" stroke-width="1.3"/>
<text transform="translate(203.32 762.20) scale(0.88 1)" font-size="9.4" font-weight="bold" text-anchor="middle" fill="#111">9</text>
<line x1="219.20" y1="748.40" x2="219.20" y2="752.00" stroke="#111" stroke-width="1.3"/>
<text transform="translate(219.20 762.20) scale(0.88 1)" font-size="9.4" font-weight="bold" text-anchor="middle" fill="#111">10</text>
<line x1="235.08" y1="748.40" x2="235.08" y2="752.00" stroke="#111" stroke-width="1.3"/>
<text transform="translate(235.08 762.20) scale(0.88 1)" font-size="9.4" font-weight="bold" text-anchor="middle" fill="#111">11</text>
<line x1="250.96" y1="748.40" x2="250.96" y2="752.00" stroke="#111" stroke-width="1.3"/>
<text transform="translate(250.96 762.20) scale(0.88 1)" font-size="9.4" font-weight="bold" text-anchor="middle" fill="#111">12</text>
<line x1="266.84" y1="748.40" x2="266.84" y2="752.00" stroke="#111" stroke-width="1.3"/>
<text transform="translate(266.84 762.20) scale(0.88 1)" font-size="9.4" font-weight="bold" text-anchor="middle" fill="#111">13</text>
<line x1="282.72" y1="748.40" x2="282.72" y2="752.00" stroke="#111" stroke-width="1.3"/>
<text transform="translate(282.72 762.20) scale(0.88 1)" font-size="9.4" font-weight="bold" text-anchor="middle" fill="#111">14</text>
<text transform="translate(67.40 762.20) scale(0.91 1)" font-size="9.0" font-weight="bold" text-anchor="end" fill="#111">Baseline</text>
<text x="290.60" y="757.60" font-size="9.5" font-weight="bold" text-anchor="start" fill="#111">(Days)</text>
<text x="20.10" y="663.40" font-size="9.6" font-weight="bold" text-anchor="middle" fill="#111" transform="rotate(-90 20.10 663.40)">Acrophase (h)</text>
<text x="75.90" y="730.90" font-size="9.5" font-weight="bold" text-anchor="middle" fill="#333">***</text>
<text x="91.20" y="665.20" font-size="9.5" font-weight="bold" text-anchor="middle" fill="#333">***</text>
<text x="106.90" y="654.70" font-size="9.5" font-weight="bold" text-anchor="middle" fill="#333">***</text>
<text x="122.20" y="635.40" font-size="9.5" font-weight="bold" text-anchor="middle" fill="#333">***</text>
<text x="139.70" y="619.60" font-size="9.5" font-weight="bold" text-anchor="middle" fill="#333">*</text>
<text x="39.20" y="828.00" font-size="16" font-weight="normal" text-anchor="start" fill="#000">G</text>
<path d="M60.40 882.26 L76.28 974.30 L92.16 945.98 L108.04 931.82 L123.92 910.58 L139.80 899.96 L155.68 892.88 L171.56 892.88 L187.44 892.88 L203.32 885.80 L219.20 885.80 L235.08 892.17 L250.96 887.92 L266.84 885.80 L282.72 883.68" fill="none" stroke="#e6b4b4" stroke-width="0.6" stroke-linejoin="round"/>
<path d="M60.40 878.72 L76.28 969.20 L92.16 933.94 L108.04 904.42 L123.92 895.71 L139.80 903.92 L155.68 880.14 L171.56 893.16 L187.44 883.68 L203.32 886.86 L219.20 887.22 L235.08 879.14 L250.96 863.85 L266.84 877.87" fill="none" stroke="#c040f0" stroke-width="0.8" stroke-linejoin="round"/>
<circle cx="60.40" cy="878.72" r="1.30" fill="#c040f0"/>
<circle cx="76.28" cy="969.20" r="2.4" fill="#fff" stroke="#c040f0" stroke-width="0.9"/>
<circle cx="92.16" cy="933.94" r="1.30" fill="#c040f0"/>
<circle cx="108.04" cy="904.42" r="1.30" fill="#c040f0"/>
<circle cx="123.92" cy="895.71" r="1.30" fill="#c040f0"/>
<circle cx="139.80" cy="903.92" r="1.30" fill="#c040f0"/>
<circle cx="155.68" cy="880.14" r="1.30" fill="#c040f0"/>
<circle cx="171.56" cy="893.16" r="1.30" fill="#c040f0"/>
<circle cx="187.44" cy="883.68" r="1.30" fill="#c040f0"/>
<circle cx="203.32" cy="886.86" r="1.30" fill="#c040f0"/>
<circle cx="219.20" cy="887.22" r="1.30" fill="#c040f0"/>
<circle cx="235.08" cy="879.14" r="1.30" fill="#c040f0"/>
<circle cx="250.96" cy="863.85" r="1.30" fill="#c040f0"/>
<circle cx="266.84" cy="877.87" r="1.30" fill="#c040f0"/>
<path d="M60.40 879.78 L76.28 986.34 L92.16 939.40 L108.04 937.48 L123.92 915.75 L139.80 907.96 L155.68 894.58 L171.56 889.34 L187.44 885.80 L203.32 889.34 L219.20 887.92 L235.08 882.61 L250.96 888.77 L266.84 888.77" fill="none" stroke="#9a8a55" stroke-width="0.8" stroke-linejoin="round"/>
<circle cx="60.40" cy="879.78" r="1.80" fill="#9a8a55"/>
<circle cx="76.28" cy="986.34" r="2.4" fill="#fff" stroke="#9a8a55" stroke-width="0.9"/>
<circle cx="92.16" cy="939.40" r="1.80" fill="#9a8a55"/>
<circle cx="108.04" cy="937.48" r="1.80" fill="#9a8a55"/>
<circle cx="123.92" cy="915.75" r="1.80" fill="#9a8a55"/>
<circle cx="139.80" cy="907.96" r="1.80" fill="#9a8a55"/>
<circle cx="155.68" cy="894.58" r="1.80" fill="#9a8a55"/>
<circle cx="171.56" cy="889.34" r="1.80" fill="#9a8a55"/>
<circle cx="187.44" cy="885.80" r="1.80" fill="#9a8a55"/>
<circle cx="203.32" cy="889.34" r="1.80" fill="#9a8a55"/>
<circle cx="219.20" cy="887.92" r="1.80" fill="#9a8a55"/>
<circle cx="235.08" cy="882.61" r="1.80" fill="#9a8a55"/>
<circle cx="250.96" cy="888.77" r="1.80" fill="#9a8a55"/>
<circle cx="266.84" cy="888.77" r="1.80" fill="#9a8a55"/>
<path d="M60.40 875.68 L76.28 960.85 L92.16 936.78 L108.04 904.92 L123.92 929.13 L139.80 890.05 L155.68 875.68 L171.56 894.30 L187.44 885.80 L203.32 871.00 L219.20 872.14 L235.08 879.14 L250.96 884.38 L266.84 880.84 L282.72 887.92" fill="none" stroke="#6aaeff" stroke-width="0.8" stroke-linejoin="round"/>
<path d="M60.40 873.92 L62.00 876.96 L58.80 876.96Z" fill="#6aaeff"/>
<path d="M76.28 959.09 L77.88 962.13 L74.68 962.13Z" fill="#6aaeff"/>
<path d="M92.16 935.02 L93.76 938.06 L90.56 938.06Z" fill="#6aaeff"/>
<path d="M108.04 903.16 L109.64 906.20 L106.44 906.20Z" fill="#6aaeff"/>
<path d="M123.92 927.37 L125.52 930.41 L122.32 930.41Z" fill="#6aaeff"/>
<path d="M139.80 888.29 L141.40 891.33 L138.20 891.33Z" fill="#6aaeff"/>
<path d="M155.68 873.92 L157.28 876.96 L154.08 876.96Z" fill="#6aaeff"/>
<path d="M171.56 892.54 L173.16 895.58 L169.96 895.58Z" fill="#6aaeff"/>
<path d="M187.44 884.04 L189.04 887.08 L185.84 887.08Z" fill="#6aaeff"/>
<path d="M203.32 869.24 L204.92 872.28 L201.72 872.28Z" fill="#6aaeff"/>
<path d="M219.20 870.38 L220.80 873.42 L217.60 873.42Z" fill="#6aaeff"/>
<path d="M235.08 877.38 L236.68 880.42 L233.48 880.42Z" fill="#6aaeff"/>
<path d="M250.96 882.62 L252.56 885.66 L249.36 885.66Z" fill="#6aaeff"/>
<path d="M266.84 879.08 L268.44 882.12 L265.24 882.12Z" fill="#6aaeff"/>
<path d="M282.72 886.16 L284.32 889.20 L281.12 889.20Z" fill="#6aaeff"/>
<path d="M60.40 878.01 L76.28 933.24 L92.16 947.96 L108.04 908.46 L123.92 897.13 L139.80 898.54 L155.68 890.05 L171.56 888.63 L187.44 898.33 L203.32 878.72 L219.20 889.34 L235.08 890.76" fill="none" stroke="#ff2a2a" stroke-width="0.8" stroke-linejoin="round"/>
<path d="M60.40 876.03 L62.20 879.45 L58.60 879.45Z" fill="#ff2a2a"/>
<rect x="73.98" y="930.94" width="4.6" height="4.6" fill="#fff" stroke="#ff2a2a" stroke-width="0.9"/>
<path d="M92.16 945.98 L93.96 949.40 L90.36 949.40Z" fill="#ff2a2a"/>
<path d="M108.04 906.48 L109.84 909.90 L106.24 909.90Z" fill="#ff2a2a"/>
<path d="M123.92 895.15 L125.72 898.57 L122.12 898.57Z" fill="#ff2a2a"/>
<path d="M139.80 896.56 L141.60 899.98 L138.00 899.98Z" fill="#ff2a2a"/>
<path d="M155.68 888.07 L157.48 891.49 L153.88 891.49Z" fill="#ff2a2a"/>
<path d="M171.56 886.65 L173.36 890.07 L169.76 890.07Z" fill="#ff2a2a"/>
<path d="M187.44 896.35 L189.24 899.77 L185.64 899.77Z" fill="#ff2a2a"/>
<path d="M203.32 876.74 L205.12 880.16 L201.52 880.16Z" fill="#ff2a2a"/>
<path d="M219.20 887.36 L221.00 890.78 L217.40 890.78Z" fill="#ff2a2a"/>
<path d="M235.08 888.78 L236.88 892.20 L233.28 892.20Z" fill="#ff2a2a"/>
<path d="M60.40 885.80 L76.28 976.78 L92.16 951.50 L108.04 937.48 L123.92 909.16 L139.80 895.00 L155.68 889.34 L171.56 890.05 L187.44 891.25 L203.32 887.43 L219.20 888.14 L235.08 885.80 L250.96 885.80 L266.84 887.92 L282.72 885.52" fill="none" stroke="#22b422" stroke-width="0.8" stroke-linejoin="round"/>
<rect x="58.80" y="884.20" width="3.20" height="3.20" fill="#22b422"/>
<rect x="73.98" y="974.48" width="4.6" height="4.6" fill="#fff" stroke="#22b422" stroke-width="0.9"/>
<rect x="90.56" y="949.90" width="3.20" height="3.20" fill="#22b422"/>
<rect x="106.44" y="935.88" width="3.20" height="3.20" fill="#22b422"/>
<rect x="122.32" y="907.56" width="3.20" height="3.20" fill="#22b422"/>
<rect x="138.20" y="893.40" width="3.20" height="3.20" fill="#22b422"/>
<rect x="154.08" y="887.74" width="3.20" height="3.20" fill="#22b422"/>
<rect x="169.96" y="888.45" width="3.20" height="3.20" fill="#22b422"/>
<rect x="185.84" y="889.65" width="3.20" height="3.20" fill="#22b422"/>
<rect x="201.72" y="885.83" width="3.20" height="3.20" fill="#22b422"/>
<rect x="217.60" y="886.54" width="3.20" height="3.20" fill="#22b422"/>
<rect x="233.48" y="884.20" width="3.20" height="3.20" fill="#22b422"/>
<rect x="249.36" y="884.20" width="3.20" height="3.20" fill="#22b422"/>
<rect x="265.24" y="886.32" width="3.20" height="3.20" fill="#22b422"/>
<rect x="281.12" y="883.92" width="3.20" height="3.20" fill="#22b422"/>
<path d="M60.40 886.86 L76.28 969.70 L92.16 959.43 L108.04 945.06 L123.92 909.16 L139.80 896.77 L155.68 893.30 L171.56 895.78 L187.44 896.99 L203.32 881.06 L219.20 881.06 L235.08 885.80 L250.96 882.40 L266.84 882.40 L282.72 878.72" fill="none" stroke="#a01818" stroke-width="0.8" stroke-linejoin="round"/>
<circle cx="60.40" cy="886.86" r="1.60" fill="#a01818"/>
<circle cx="76.28" cy="969.70" r="1.60" fill="#a01818"/>
<circle cx="92.16" cy="959.43" r="1.60" fill="#a01818"/>
<circle cx="108.04" cy="945.06" r="1.60" fill="#a01818"/>
<circle cx="123.92" cy="909.16" r="1.60" fill="#a01818"/>
<circle cx="139.80" cy="896.77" r="1.60" fill="#a01818"/>
<circle cx="155.68" cy="893.30" r="1.60" fill="#a01818"/>
<circle cx="171.56" cy="895.78" r="1.60" fill="#a01818"/>
<circle cx="187.44" cy="896.99" r="1.60" fill="#a01818"/>
<circle cx="203.32" cy="881.06" r="1.60" fill="#a01818"/>
<circle cx="219.20" cy="881.06" r="1.60" fill="#a01818"/>
<circle cx="235.08" cy="885.80" r="1.60" fill="#a01818"/>
<circle cx="250.96" cy="882.40" r="1.60" fill="#a01818"/>
<circle cx="266.84" cy="882.40" r="1.60" fill="#a01818"/>
<circle cx="282.72" cy="878.72" r="1.60" fill="#a01818"/>
<path d="M60.40 856.06 L76.28 930.40 L92.16 940.10 L108.04 923.75 L123.92 898.12 L139.80 888.84 L155.68 888.84 L171.56 891.46 L187.44 885.09 L203.32 875.89 L219.20 885.52 L235.08 885.80" fill="none" stroke="#1a32ff" stroke-width="0.8" stroke-linejoin="round"/>
<rect x="58.60" y="854.26" width="3.60" height="3.60" fill="#1a32ff"/>
<rect x="73.98" y="928.10" width="4.6" height="4.6" fill="#fff" stroke="#1a32ff" stroke-width="0.9"/>
<rect x="90.36" y="938.30" width="3.60" height="3.60" fill="#1a32ff"/>
<rect x="106.24" y="921.95" width="3.60" height="3.60" fill="#1a32ff"/>
<rect x="122.12" y="896.32" width="3.60" height="3.60" fill="#1a32ff"/>
<rect x="138.00" y="887.04" width="3.60" height="3.60" fill="#1a32ff"/>
<rect x="153.88" y="887.04" width="3.60" height="3.60" fill="#1a32ff"/>
<rect x="169.76" y="889.66" width="3.60" height="3.60" fill="#1a32ff"/>
<rect x="185.64" y="883.29" width="3.60" height="3.60" fill="#1a32ff"/>
<rect x="201.52" y="874.09" width="3.60" height="3.60" fill="#1a32ff"/>
<rect x="217.40" y="883.72" width="3.60" height="3.60" fill="#1a32ff"/>
<rect x="233.28" y="884.00" width="3.60" height="3.60" fill="#1a32ff"/>
<line x1="44.50" y1="839.78" x2="44.50" y2="1010.70" stroke="#111" stroke-width="2"/>
<line x1="40.00" y1="839.78" x2="44.50" y2="839.78" stroke="#111" stroke-width="1.3"/>
<line x1="40.00" y1="1009.70" x2="44.50" y2="1009.70" stroke="#111" stroke-width="1.3"/>
<text transform="translate(38.20 1009.90) scale(0.9 1)" font-size="9.4" font-weight="bold" text-anchor="end" fill="#111">0</text>
<line x1="40.00" y1="981.38" x2="44.50" y2="981.38" stroke="#111" stroke-width="1.3"/>
<text transform="translate(38.20 984.78) scale(0.9 1)" font-size="9.4" font-weight="bold" text-anchor="end" fill="#111">4</text>
<line x1="40.00" y1="953.06" x2="44.50" y2="953.06" stroke="#111" stroke-width="1.3"/>
<text transform="translate(38.20 956.46) scale(0.9 1)" font-size="9.4" font-weight="bold" text-anchor="end" fill="#111">8</text>
<line x1="40.00" y1="924.74" x2="44.50" y2="924.74" stroke="#111" stroke-width="1.3"/>
<text transform="translate(38.20 928.14) scale(0.9 1)" font-size="9.4" font-weight="bold" text-anchor="end" fill="#111">12</text>
<line x1="40.00" y1="896.42" x2="44.50" y2="896.42" stroke="#111" stroke-width="1.3"/>
<text transform="translate(38.20 899.82) scale(0.9 1)" font-size="9.4" font-weight="bold" text-anchor="end" fill="#111">16</text>
<line x1="40.00" y1="868.10" x2="44.50" y2="868.10" stroke="#111" stroke-width="1.3"/>
<text transform="translate(38.20 871.50) scale(0.9 1)" font-size="9.4" font-weight="bold" text-anchor="end" fill="#111">20</text>
<line x1="40.00" y1="846.86" x2="44.50" y2="846.86" stroke="#111" stroke-width="1.3"/>
<text transform="translate(38.20 850.26) scale(0.9 1)" font-size="9.4" font-weight="bold" text-anchor="end" fill="#111">23</text>
<line x1="43.50" y1="1009.70" x2="283.32" y2="1009.70" stroke="#111" stroke-width="2"/>
<line x1="60.40" y1="1009.70" x2="60.40" y2="1013.30" stroke="#111" stroke-width="1.3"/>
<line x1="76.28" y1="1009.70" x2="76.28" y2="1013.30" stroke="#111" stroke-width="1.3"/>
<text transform="translate(76.28 1023.50) scale(0.88 1)" font-size="9.4" font-weight="bold" text-anchor="middle" fill="#111">1</text>
<line x1="92.16" y1="1009.70" x2="92.16" y2="1013.30" stroke="#111" stroke-width="1.3"/>
<text transform="translate(92.16 1023.50) scale(0.88 1)" font-size="9.4" font-weight="bold" text-anchor="middle" fill="#111">2</text>
<line x1="108.04" y1="1009.70" x2="108.04" y2="1013.30" stroke="#111" stroke-width="1.3"/>
<text transform="translate(108.04 1023.50) scale(0.88 1)" font-size="9.4" font-weight="bold" text-anchor="middle" fill="#111">3</text>
<line x1="123.92" y1="1009.70" x2="123.92" y2="1013.30" stroke="#111" stroke-width="1.3"/>
<text transform="translate(123.92 1023.50) scale(0.88 1)" font-size="9.4" font-weight="bold" text-anchor="middle" fill="#111">4</text>
<line x1="139.80" y1="1009.70" x2="139.80" y2="1013.30" stroke="#111" stroke-width="1.3"/>
<text transform="translate(139.80 1023.50) scale(0.88 1)" font-size="9.4" font-weight="bold" text-anchor="middle" fill="#111">5</text>
<line x1="155.68" y1="1009.70" x2="155.68" y2="1013.30" stroke="#111" stroke-width="1.3"/>
<text transform="translate(155.68 1023.50) scale(0.88 1)" font-size="9.4" font-weight="bold" text-anchor="middle" fill="#111">6</text>
<line x1="171.56" y1="1009.70" x2="171.56" y2="1013.30" stroke="#111" stroke-width="1.3"/>
<text transform="translate(171.56 1023.50) scale(0.88 1)" font-size="9.4" font-weight="bold" text-anchor="middle" fill="#111">7</text>
<line x1="187.44" y1="1009.70" x2="187.44" y2="1013.30" stroke="#111" stroke-width="1.3"/>
<text transform="translate(187.44 1023.50) scale(0.88 1)" font-size="9.4" font-weight="bold" text-anchor="middle" fill="#111">8</text>
<line x1="203.32" y1="1009.70" x2="203.32" y2="1013.30" stroke="#111" stroke-width="1.3"/>
<text transform="translate(203.32 1023.50) scale(0.88 1)" font-size="9.4" font-weight="bold" text-anchor="middle" fill="#111">9</text>
<line x1="219.20" y1="1009.70" x2="219.20" y2="1013.30" stroke="#111" stroke-width="1.3"/>
<text transform="translate(219.20 1023.50) scale(0.88 1)" font-size="9.4" font-weight="bold" text-anchor="middle" fill="#111">10</text>
<line x1="235.08" y1="1009.70" x2="235.08" y2="1013.30" stroke="#111" stroke-width="1.3"/>
<text transform="translate(235.08 1023.50) scale(0.88 1)" font-size="9.4" font-weight="bold" text-anchor="middle" fill="#111">11</text>
<line x1="250.96" y1="1009.70" x2="250.96" y2="1013.30" stroke="#111" stroke-width="1.3"/>
<text transform="translate(250.96 1023.50) scale(0.88 1)" font-size="9.4" font-weight="bold" text-anchor="middle" fill="#111">12</text>
<line x1="266.84" y1="1009.70" x2="266.84" y2="1013.30" stroke="#111" stroke-width="1.3"/>
<text transform="translate(266.84 1023.50) scale(0.88 1)" font-size="9.4" font-weight="bold" text-anchor="middle" fill="#111">13</text>
<line x1="282.72" y1="1009.70" x2="282.72" y2="1013.30" stroke="#111" stroke-width="1.3"/>
<text transform="translate(282.72 1023.50) scale(0.88 1)" font-size="9.4" font-weight="bold" text-anchor="middle" fill="#111">14</text>
<text transform="translate(67.40 1023.50) scale(0.91 1)" font-size="9.0" font-weight="bold" text-anchor="end" fill="#111">Baseline</text>
<text x="290.60" y="1018.90" font-size="9.5" font-weight="bold" text-anchor="start" fill="#111">(Days)</text>
<text x="20.10" y="924.70" font-size="9.6" font-weight="bold" text-anchor="middle" fill="#111" transform="rotate(-90 20.10 924.70)">Acrophase (h)</text>
<text x="74.90" y="999.10" font-size="9.5" font-weight="bold" text-anchor="middle" fill="#333">***</text>
<text x="90.60" y="926.10" font-size="9.5" font-weight="bold" text-anchor="middle" fill="#333">***</text>
<text x="108.20" y="901.00" font-size="9.5" font-weight="bold" text-anchor="middle" fill="#333">***</text>
<text x="123.20" y="893.30" font-size="9.5" font-weight="bold" text-anchor="middle" fill="#333">**</text>
<text x="139.00" y="882.80" font-size="9.5" font-weight="bold" text-anchor="middle" fill="#333">**</text>
<text x="171.60" y="883.10" font-size="9.5" font-weight="bold" text-anchor="middle" fill="#333">*</text>
<text x="187.50" y="878.30" font-size="9.5" font-weight="bold" text-anchor="middle" fill="#333">*</text>
<text x="43.00" y="1087.40" font-size="16" font-weight="normal" text-anchor="start" fill="#000">I</text>
<path d="M60.40 1141.75 L76.28 1229.96 L92.16 1229.96 L108.04 1224.30 L123.92 1203.06 L139.80 1171.48 L155.68 1162.70 L171.56 1157.04 L187.44 1171.91 L203.32 1146.42 L219.20 1153.92 L235.08 1154.21 L250.96 1152.79 L266.84 1152.79 L282.72 1139.34" fill="none" stroke="#e6b4b4" stroke-width="0.6" stroke-linejoin="round"/>
<path d="M60.40 1142.88 L76.28 1241.43 L92.16 1212.26 L108.04 1194.42 L123.92 1195.63 L139.80 1160.58 L155.68 1150.31 L171.56 1172.47 L187.44 1130.99 L203.32 1156.76 L219.20 1143.87 L235.08 1148.54 L250.96 1129.43 L266.84 1135.09" fill="none" stroke="#c040f0" stroke-width="0.8" stroke-linejoin="round"/>
<circle cx="60.40" cy="1142.88" r="1.30" fill="#c040f0"/>
<circle cx="76.28" cy="1241.43" r="1.30" fill="#c040f0"/>
<circle cx="92.16" cy="1212.26" r="1.30" fill="#c040f0"/>
<circle cx="108.04" cy="1194.42" r="1.30" fill="#c040f0"/>
<circle cx="123.92" cy="1195.63" r="1.30" fill="#c040f0"/>
<circle cx="139.80" cy="1160.58" r="1.30" fill="#c040f0"/>
<circle cx="155.68" cy="1150.31" r="1.30" fill="#c040f0"/>
<circle cx="171.56" cy="1172.47" r="1.30" fill="#c040f0"/>
<circle cx="187.44" cy="1130.99" r="1.30" fill="#c040f0"/>
<circle cx="203.32" cy="1156.76" r="1.30" fill="#c040f0"/>
<circle cx="219.20" cy="1143.87" r="1.30" fill="#c040f0"/>
<circle cx="235.08" cy="1148.54" r="1.30" fill="#c040f0"/>
<circle cx="250.96" cy="1129.43" r="1.30" fill="#c040f0"/>
<circle cx="266.84" cy="1135.09" r="1.30" fill="#c040f0"/>
<path d="M60.40 1142.17 L76.28 1235.27 L92.16 1221.47 L108.04 1196.83 L123.92 1200.02 L139.80 1215.59 L155.68 1142.17 L171.56 1172.47 L187.44 1153.92 L203.32 1158.46 L219.20 1150.67 L235.08 1149.25 L250.96 1152.93 L266.84 1150.67" fill="none" stroke="#9a8a55" stroke-width="0.8" stroke-linejoin="round"/>
<circle cx="60.40" cy="1142.17" r="1.80" fill="#9a8a55"/>
<circle cx="76.28" cy="1235.27" r="1.80" fill="#9a8a55"/>
<circle cx="92.16" cy="1221.47" r="1.80" fill="#9a8a55"/>
<circle cx="108.04" cy="1196.83" r="1.80" fill="#9a8a55"/>
<circle cx="123.92" cy="1200.02" r="1.80" fill="#9a8a55"/>
<circle cx="139.80" cy="1215.59" r="1.80" fill="#9a8a55"/>
<circle cx="155.68" cy="1142.17" r="1.80" fill="#9a8a55"/>
<circle cx="171.56" cy="1172.47" r="1.80" fill="#9a8a55"/>
<circle cx="187.44" cy="1153.92" r="1.80" fill="#9a8a55"/>
<circle cx="203.32" cy="1158.46" r="1.80" fill="#9a8a55"/>
<circle cx="219.20" cy="1150.67" r="1.80" fill="#9a8a55"/>
<circle cx="235.08" cy="1149.25" r="1.80" fill="#9a8a55"/>
<circle cx="250.96" cy="1152.93" r="1.80" fill="#9a8a55"/>
<circle cx="266.84" cy="1150.67" r="1.80" fill="#9a8a55"/>
<path d="M60.40 1137.22 L76.28 1226.42 L92.16 1210.14 L108.04 1182.32 L123.92 1191.17 L139.80 1158.46 L155.68 1114.98 L171.56 1154.92 L187.44 1148.19 L203.32 1109.39 L219.20 1114.35 L235.08 1149.25 L250.96 1145.00 L266.84 1148.54 L282.72 1141.82" fill="none" stroke="#6aaeff" stroke-width="0.8" stroke-linejoin="round"/>
<path d="M60.40 1135.46 L62.00 1138.50 L58.80 1138.50Z" fill="#6aaeff"/>
<path d="M76.28 1224.66 L77.88 1227.70 L74.68 1227.70Z" fill="#6aaeff"/>
<path d="M92.16 1208.38 L93.76 1211.42 L90.56 1211.42Z" fill="#6aaeff"/>
<path d="M108.04 1180.56 L109.64 1183.60 L106.44 1183.60Z" fill="#6aaeff"/>
<path d="M123.92 1189.41 L125.52 1192.45 L122.32 1192.45Z" fill="#6aaeff"/>
<path d="M139.80 1156.70 L141.40 1159.74 L138.20 1159.74Z" fill="#6aaeff"/>
<path d="M155.68 1113.22 L157.28 1116.26 L154.08 1116.26Z" fill="#6aaeff"/>
<path d="M171.56 1153.16 L173.16 1156.20 L169.96 1156.20Z" fill="#6aaeff"/>
<path d="M187.44 1146.43 L189.04 1149.47 L185.84 1149.47Z" fill="#6aaeff"/>
<path d="M203.32 1107.63 L204.92 1110.67 L201.72 1110.67Z" fill="#6aaeff"/>
<path d="M219.20 1112.59 L220.80 1115.63 L217.60 1115.63Z" fill="#6aaeff"/>
<path d="M235.08 1147.49 L236.68 1150.53 L233.48 1150.53Z" fill="#6aaeff"/>
<path d="M250.96 1143.24 L252.56 1146.28 L249.36 1146.28Z" fill="#6aaeff"/>
<path d="M266.84 1146.78 L268.44 1149.82 L265.24 1149.82Z" fill="#6aaeff"/>
<path d="M282.72 1140.06 L284.32 1143.10 L281.12 1143.10Z" fill="#6aaeff"/>
<path d="M60.40 1141.75 L76.28 1226.07 L92.16 1225.72 L108.04 1219.77 L123.92 1166.10 L139.80 1161.29 L155.68 1140.33 L171.56 1143.02 L187.44 1171.62 L203.32 1174.95 L219.20 1153.92 L235.08 1172.62" fill="none" stroke="#ff2a2a" stroke-width="0.8" stroke-linejoin="round"/>
<path d="M60.40 1139.77 L62.20 1143.19 L58.60 1143.19Z" fill="#ff2a2a"/>
<path d="M76.28 1224.09 L78.08 1227.51 L74.48 1227.51Z" fill="#ff2a2a"/>
<path d="M92.16 1223.74 L93.96 1227.16 L90.36 1227.16Z" fill="#ff2a2a"/>
<path d="M108.04 1217.79 L109.84 1221.21 L106.24 1221.21Z" fill="#ff2a2a"/>
<path d="M123.92 1164.12 L125.72 1167.54 L122.12 1167.54Z" fill="#ff2a2a"/>
<path d="M139.80 1159.31 L141.60 1162.73 L138.00 1162.73Z" fill="#ff2a2a"/>
<path d="M155.68 1138.35 L157.48 1141.77 L153.88 1141.77Z" fill="#ff2a2a"/>
<path d="M171.56 1141.04 L173.36 1144.46 L169.76 1144.46Z" fill="#ff2a2a"/>
<path d="M187.44 1169.64 L189.24 1173.06 L185.64 1173.06Z" fill="#ff2a2a"/>
<path d="M203.32 1172.97 L205.12 1176.39 L201.52 1176.39Z" fill="#ff2a2a"/>
<path d="M219.20 1151.94 L221.00 1155.36 L217.40 1155.36Z" fill="#ff2a2a"/>
<path d="M235.08 1170.64 L236.88 1174.06 L233.28 1174.06Z" fill="#ff2a2a"/>
<path d="M60.40 1149.39 L76.28 1244.48 L92.16 1240.65 L108.04 1226.85 L123.92 1200.23 L139.80 1166.53 L155.68 1171.48 L171.56 1163.98 L187.44 1165.75 L203.32 1160.58 L219.20 1157.75 L235.08 1156.69 L250.96 1161.00 L266.84 1143.38 L282.72 1151.38" fill="none" stroke="#22b422" stroke-width="0.8" stroke-linejoin="round"/>
<rect x="58.80" y="1147.79" width="3.20" height="3.20" fill="#22b422"/>
<rect x="74.68" y="1242.88" width="3.20" height="3.20" fill="#22b422"/>
<rect x="90.56" y="1239.05" width="3.20" height="3.20" fill="#22b422"/>
<rect x="106.44" y="1225.25" width="3.20" height="3.20" fill="#22b422"/>
<rect x="122.32" y="1198.63" width="3.20" height="3.20" fill="#22b422"/>
<rect x="138.20" y="1164.93" width="3.20" height="3.20" fill="#22b422"/>
<rect x="154.08" y="1169.88" width="3.20" height="3.20" fill="#22b422"/>
<rect x="169.96" y="1162.38" width="3.20" height="3.20" fill="#22b422"/>
<rect x="185.84" y="1164.15" width="3.20" height="3.20" fill="#22b422"/>
<rect x="201.72" y="1158.98" width="3.20" height="3.20" fill="#22b422"/>
<rect x="217.60" y="1156.15" width="3.20" height="3.20" fill="#22b422"/>
<rect x="233.48" y="1155.09" width="3.20" height="3.20" fill="#22b422"/>
<rect x="249.36" y="1159.40" width="3.20" height="3.20" fill="#22b422"/>
<rect x="265.24" y="1141.78" width="3.20" height="3.20" fill="#22b422"/>
<rect x="281.12" y="1149.78" width="3.20" height="3.20" fill="#22b422"/>
<path d="M60.40 1146.21 L76.28 1229.26 L92.16 1234.92 L108.04 1207.45 L123.92 1223.80 L139.80 1153.22 L155.68 1156.33 L171.56 1161.57 L187.44 1165.39 L203.32 1141.82 L219.20 1136.72 L235.08 1138.63 L250.96 1138.99 L266.84 1135.80 L282.72 1135.80" fill="none" stroke="#a01818" stroke-width="0.8" stroke-linejoin="round"/>
<circle cx="60.40" cy="1146.21" r="1.60" fill="#a01818"/>
<circle cx="76.28" cy="1229.26" r="1.60" fill="#a01818"/>
<circle cx="92.16" cy="1234.92" r="1.60" fill="#a01818"/>
<circle cx="108.04" cy="1207.45" r="1.60" fill="#a01818"/>
<circle cx="123.92" cy="1223.80" r="1.60" fill="#a01818"/>
<circle cx="139.80" cy="1153.22" r="1.60" fill="#a01818"/>
<circle cx="155.68" cy="1156.33" r="1.60" fill="#a01818"/>
<circle cx="171.56" cy="1161.57" r="1.60" fill="#a01818"/>
<circle cx="187.44" cy="1165.39" r="1.60" fill="#a01818"/>
<circle cx="203.32" cy="1141.82" r="1.60" fill="#a01818"/>
<circle cx="219.20" cy="1136.72" r="1.60" fill="#a01818"/>
<circle cx="235.08" cy="1138.63" r="1.60" fill="#a01818"/>
<circle cx="250.96" cy="1138.99" r="1.60" fill="#a01818"/>
<circle cx="266.84" cy="1135.80" r="1.60" fill="#a01818"/>
<circle cx="282.72" cy="1135.80" r="1.60" fill="#a01818"/>
<path d="M60.40 1134.38 L76.28 1225.72 L92.16 1211.41 L108.04 1215.59 L123.92 1183.24 L139.80 1162.07 L155.68 1155.62 L171.56 1157.32 L187.44 1117.04 L203.32 1163.48 L219.20 1146.28 L235.08 1145.29" fill="none" stroke="#1a32ff" stroke-width="0.8" stroke-linejoin="round"/>
<rect x="58.60" y="1132.58" width="3.60" height="3.60" fill="#1a32ff"/>
<rect x="74.48" y="1223.92" width="3.60" height="3.60" fill="#1a32ff"/>
<rect x="90.36" y="1209.61" width="3.60" height="3.60" fill="#1a32ff"/>
<rect x="106.24" y="1213.79" width="3.60" height="3.60" fill="#1a32ff"/>
<rect x="122.12" y="1181.44" width="3.60" height="3.60" fill="#1a32ff"/>
<rect x="138.00" y="1160.27" width="3.60" height="3.60" fill="#1a32ff"/>
<rect x="153.88" y="1153.82" width="3.60" height="3.60" fill="#1a32ff"/>
<rect x="169.76" y="1155.52" width="3.60" height="3.60" fill="#1a32ff"/>
<rect x="185.64" y="1115.24" width="3.60" height="3.60" fill="#1a32ff"/>
<rect x="201.52" y="1161.68" width="3.60" height="3.60" fill="#1a32ff"/>
<rect x="217.40" y="1144.48" width="3.60" height="3.60" fill="#1a32ff"/>
<rect x="233.28" y="1143.49" width="3.60" height="3.60" fill="#1a32ff"/>
<line x1="44.50" y1="1107.48" x2="44.50" y2="1278.40" stroke="#111" stroke-width="2"/>
<line x1="40.00" y1="1107.48" x2="44.50" y2="1107.48" stroke="#111" stroke-width="1.3"/>
<line x1="40.00" y1="1277.40" x2="44.50" y2="1277.40" stroke="#111" stroke-width="1.3"/>
<text transform="translate(38.20 1277.60) scale(0.9 1)" font-size="9.4" font-weight="bold" text-anchor="end" fill="#111">0</text>
<line x1="40.00" y1="1249.08" x2="44.50" y2="1249.08" stroke="#111" stroke-width="1.3"/>
<text transform="translate(38.20 1252.48) scale(0.9 1)" font-size="9.4" font-weight="bold" text-anchor="end" fill="#111">4</text>
<line x1="40.00" y1="1220.76" x2="44.50" y2="1220.76" stroke="#111" stroke-width="1.3"/>
<text transform="translate(38.20 1224.16) scale(0.9 1)" font-size="9.4" font-weight="bold" text-anchor="end" fill="#111">8</text>
<line x1="40.00" y1="1192.44" x2="44.50" y2="1192.44" stroke="#111" stroke-width="1.3"/>
<text transform="translate(38.20 1195.84) scale(0.9 1)" font-size="9.4" font-weight="bold" text-anchor="end" fill="#111">12</text>
<line x1="40.00" y1="1164.12" x2="44.50" y2="1164.12" stroke="#111" stroke-width="1.3"/>
<text transform="translate(38.20 1167.52) scale(0.9 1)" font-size="9.4" font-weight="bold" text-anchor="end" fill="#111">16</text>
<line x1="40.00" y1="1135.80" x2="44.50" y2="1135.80" stroke="#111" stroke-width="1.3"/>
<text transform="translate(38.20 1139.20) scale(0.9 1)" font-size="9.4" font-weight="bold" text-anchor="end" fill="#111">20</text>
<line x1="40.00" y1="1114.56" x2="44.50" y2="1114.56" stroke="#111" stroke-width="1.3"/>
<text transform="translate(38.20 1117.96) scale(0.9 1)" font-size="9.4" font-weight="bold" text-anchor="end" fill="#111">23</text>
<line x1="43.50" y1="1277.40" x2="283.32" y2="1277.40" stroke="#111" stroke-width="2"/>
<line x1="60.40" y1="1277.40" x2="60.40" y2="1281.00" stroke="#111" stroke-width="1.3"/>
<line x1="76.28" y1="1277.40" x2="76.28" y2="1281.00" stroke="#111" stroke-width="1.3"/>
<text transform="translate(76.28 1291.20) scale(0.88 1)" font-size="9.4" font-weight="bold" text-anchor="middle" fill="#111">1</text>
<line x1="92.16" y1="1277.40" x2="92.16" y2="1281.00" stroke="#111" stroke-width="1.3"/>
<text transform="translate(92.16 1291.20) scale(0.88 1)" font-size="9.4" font-weight="bold" text-anchor="middle" fill="#111">2</text>
<line x1="108.04" y1="1277.40" x2="108.04" y2="1281.00" stroke="#111" stroke-width="1.3"/>
<text transform="translate(108.04 1291.20) scale(0.88 1)" font-size="9.4" font-weight="bold" text-anchor="middle" fill="#111">3</text>
<line x1="123.92" y1="1277.40" x2="123.92" y2="1281.00" stroke="#111" stroke-width="1.3"/>
<text transform="translate(123.92 1291.20) scale(0.88 1)" font-size="9.4" font-weight="bold" text-anchor="middle" fill="#111">4</text>
<line x1="139.80" y1="1277.40" x2="139.80" y2="1281.00" stroke="#111" stroke-width="1.3"/>
<text transform="translate(139.80 1291.20) scale(0.88 1)" font-size="9.4" font-weight="bold" text-anchor="middle" fill="#111">5</text>
<line x1="155.68" y1="1277.40" x2="155.68" y2="1281.00" stroke="#111" stroke-width="1.3"/>
<text transform="translate(155.68 1291.20) scale(0.88 1)" font-size="9.4" font-weight="bold" text-anchor="middle" fill="#111">6</text>
<line x1="171.56" y1="1277.40" x2="171.56" y2="1281.00" stroke="#111" stroke-width="1.3"/>
<text transform="translate(171.56 1291.20) scale(0.88 1)" font-size="9.4" font-weight="bold" text-anchor="middle" fill="#111">7</text>
<line x1="187.44" y1="1277.40" x2="187.44" y2="1281.00" stroke="#111" stroke-width="1.3"/>
<text transform="translate(187.44 1291.20) scale(0.88 1)" font-size="9.4" font-weight="bold" text-anchor="middle" fill="#111">8</text>
<line x1="203.32" y1="1277.40" x2="203.32" y2="1281.00" stroke="#111" stroke-width="1.3"/>
<text transform="translate(203.32 1291.20) scale(0.88 1)" font-size="9.4" font-weight="bold" text-anchor="middle" fill="#111">9</text>
<line x1="219.20" y1="1277.40" x2="219.20" y2="1281.00" stroke="#111" stroke-width="1.3"/>
<text transform="translate(219.20 1291.20) scale(0.88 1)" font-size="9.4" font-weight="bold" text-anchor="middle" fill="#111">10</text>
<line x1="235.08" y1="1277.40" x2="235.08" y2="1281.00" stroke="#111" stroke-width="1.3"/>
<text transform="translate(235.08 1291.20) scale(0.88 1)" font-size="9.4" font-weight="bold" text-anchor="middle" fill="#111">11</text>
<line x1="250.96" y1="1277.40" x2="250.96" y2="1281.00" stroke="#111" stroke-width="1.3"/>
<text transform="translate(250.96 1291.20) scale(0.88 1)" font-size="9.4" font-weight="bold" text-anchor="middle" fill="#111">12</text>
<line x1="266.84" y1="1277.40" x2="266.84" y2="1281.00" stroke="#111" stroke-width="1.3"/>
<text transform="translate(266.84 1291.20) scale(0.88 1)" font-size="9.4" font-weight="bold" text-anchor="middle" fill="#111">13</text>
<line x1="282.72" y1="1277.40" x2="282.72" y2="1281.00" stroke="#111" stroke-width="1.3"/>
<text transform="translate(282.72 1291.20) scale(0.88 1)" font-size="9.4" font-weight="bold" text-anchor="middle" fill="#111">14</text>
<text transform="translate(67.40 1291.20) scale(0.91 1)" font-size="9.0" font-weight="bold" text-anchor="end" fill="#111">Baseline</text>
<text x="290.60" y="1286.60" font-size="9.5" font-weight="bold" text-anchor="start" fill="#111">(Days)</text>
<text x="20.10" y="1192.40" font-size="9.6" font-weight="bold" text-anchor="middle" fill="#111" transform="rotate(-90 20.10 1192.40)">Acrophase (h)</text>
<text x="75.40" y="1259.10" font-size="9.5" font-weight="bold" text-anchor="middle" fill="#333">***</text>
<text x="89.40" y="1204.50" font-size="9.5" font-weight="bold" text-anchor="middle" fill="#333">***</text>
<text x="106.40" y="1180.80" font-size="9.5" font-weight="bold" text-anchor="middle" fill="#333">***</text>
<text x="123.60" y="1162.90" font-size="9.5" font-weight="bold" text-anchor="middle" fill="#333">***</text>
<text x="138.00" y="1148.40" font-size="9.5" font-weight="bold" text-anchor="middle" fill="#333">*</text>
<text x="171.60" y="1135.90" font-size="9.5" font-weight="bold" text-anchor="middle" fill="#333">*</text>
<text x="410.50" y="40.40" font-size="16" font-weight="normal" text-anchor="start" fill="#000">B</text>
<line x1="418.80" y1="185.37" x2="418.80" y2="182.92" stroke="#333" stroke-width="1"/>
<line x1="417.30" y1="182.92" x2="420.30" y2="182.92" stroke="#333" stroke-width="1"/>
<rect x="416.40" y="185.37" width="4.80" height="38.63" fill="#d9d9d9" stroke="#3a3a3a" stroke-width="1"/>
<line x1="424.30" y1="101.42" x2="424.30" y2="99.31" stroke="#333" stroke-width="1"/>
<line x1="422.80" y1="99.31" x2="425.80" y2="99.31" stroke="#333" stroke-width="1"/>
<rect x="421.70" y="101.42" width="5.20" height="122.58" fill="#333333"/>
<line x1="435.12" y1="136.47" x2="435.12" y2="133.54" stroke="#333" stroke-width="1"/>
<line x1="433.62" y1="133.54" x2="436.62" y2="133.54" stroke="#333" stroke-width="1"/>
<rect x="432.72" y="136.47" width="4.80" height="87.53" fill="#d9d9d9" stroke="#3a3a3a" stroke-width="1"/>
<line x1="440.62" y1="156.84" x2="440.62" y2="151.63" stroke="#333" stroke-width="1"/>
<line x1="439.12" y1="151.63" x2="442.12" y2="151.63" stroke="#333" stroke-width="1"/>
<rect x="438.02" y="156.84" width="5.20" height="67.16" fill="#333333"/>
<line x1="451.44" y1="138.75" x2="451.44" y2="135.98" stroke="#333" stroke-width="1"/>
<line x1="449.94" y1="135.98" x2="452.94" y2="135.98" stroke="#333" stroke-width="1"/>
<rect x="449.04" y="138.75" width="4.80" height="85.25" fill="#d9d9d9" stroke="#3a3a3a" stroke-width="1"/>
<line x1="456.94" y1="147.72" x2="456.94" y2="144.46" stroke="#333" stroke-width="1"/>
<line x1="455.44" y1="144.46" x2="458.44" y2="144.46" stroke="#333" stroke-width="1"/>
<rect x="454.34" y="147.72" width="5.20" height="76.28" fill="#333333"/>
<line x1="467.76" y1="148.37" x2="467.76" y2="143.48" stroke="#333" stroke-width="1"/>
<line x1="466.26" y1="143.48" x2="469.26" y2="143.48" stroke="#333" stroke-width="1"/>
<rect x="465.36" y="148.37" width="4.80" height="75.63" fill="#d9d9d9" stroke="#3a3a3a" stroke-width="1"/>
<line x1="473.26" y1="138.26" x2="473.26" y2="133.05" stroke="#333" stroke-width="1"/>
<line x1="471.76" y1="133.05" x2="474.76" y2="133.05" stroke="#333" stroke-width="1"/>
<rect x="470.66" y="138.26" width="5.20" height="85.74" fill="#333333"/>
<line x1="484.08" y1="172.66" x2="484.08" y2="169.56" stroke="#333" stroke-width="1"/>
<line x1="482.58" y1="169.56" x2="485.58" y2="169.56" stroke="#333" stroke-width="1"/>
<rect x="481.68" y="172.66" width="4.80" height="51.34" fill="#d9d9d9" stroke="#3a3a3a" stroke-width="1"/>
<line x1="489.58" y1="114.14" x2="489.58" y2="110.72" stroke="#333" stroke-width="1"/>
<line x1="488.08" y1="110.72" x2="491.08" y2="110.72" stroke="#333" stroke-width="1"/>
<rect x="486.98" y="114.14" width="5.20" height="109.86" fill="#333333"/>
<line x1="500.40" y1="187.65" x2="500.40" y2="184.39" stroke="#333" stroke-width="1"/>
<line x1="498.90" y1="184.39" x2="501.90" y2="184.39" stroke="#333" stroke-width="1"/>
<rect x="498.00" y="187.65" width="4.80" height="36.35" fill="#d9d9d9" stroke="#3a3a3a" stroke-width="1"/>
<line x1="505.90" y1="99.47" x2="505.90" y2="95.56" stroke="#333" stroke-width="1"/>
<line x1="504.40" y1="95.56" x2="507.40" y2="95.56" stroke="#333" stroke-width="1"/>
<rect x="503.30" y="99.47" width="5.20" height="124.53" fill="#333333"/>
<line x1="516.72" y1="192.38" x2="516.72" y2="189.44" stroke="#333" stroke-width="1"/>
<line x1="515.22" y1="189.44" x2="518.22" y2="189.44" stroke="#333" stroke-width="1"/>
<rect x="514.32" y="192.38" width="4.80" height="31.62" fill="#d9d9d9" stroke="#3a3a3a" stroke-width="1"/>
<line x1="522.22" y1="94.58" x2="522.22" y2="90.83" stroke="#333" stroke-width="1"/>
<line x1="520.72" y1="90.83" x2="523.72" y2="90.83" stroke="#333" stroke-width="1"/>
<rect x="519.62" y="94.58" width="5.20" height="129.42" fill="#333333"/>
<line x1="533.04" y1="189.61" x2="533.04" y2="187.81" stroke="#333" stroke-width="1"/>
<line x1="531.54" y1="187.81" x2="534.54" y2="187.81" stroke="#333" stroke-width="1"/>
<rect x="530.64" y="189.61" width="4.80" height="34.39" fill="#d9d9d9" stroke="#3a3a3a" stroke-width="1"/>
<line x1="538.54" y1="97.02" x2="538.54" y2="94.58" stroke="#333" stroke-width="1"/>
<line x1="537.04" y1="94.58" x2="540.04" y2="94.58" stroke="#333" stroke-width="1"/>
<rect x="535.94" y="97.02" width="5.20" height="126.98" fill="#333333"/>
<line x1="549.36" y1="184.88" x2="549.36" y2="180.48" stroke="#333" stroke-width="1"/>
<line x1="547.86" y1="180.48" x2="550.86" y2="180.48" stroke="#333" stroke-width="1"/>
<rect x="546.96" y="184.88" width="4.80" height="39.12" fill="#d9d9d9" stroke="#3a3a3a" stroke-width="1"/>
<line x1="554.86" y1="101.75" x2="554.86" y2="98.00" stroke="#333" stroke-width="1"/>
<line x1="553.36" y1="98.00" x2="556.36" y2="98.00" stroke="#333" stroke-width="1"/>
<rect x="552.26" y="101.75" width="5.20" height="122.25" fill="#333333"/>
<line x1="565.68" y1="182.76" x2="565.68" y2="179.66" stroke="#333" stroke-width="1"/>
<line x1="564.18" y1="179.66" x2="567.18" y2="179.66" stroke="#333" stroke-width="1"/>
<rect x="563.28" y="182.76" width="4.80" height="41.24" fill="#d9d9d9" stroke="#3a3a3a" stroke-width="1"/>
<line x1="571.18" y1="103.38" x2="571.18" y2="99.96" stroke="#333" stroke-width="1"/>
<line x1="569.68" y1="99.96" x2="572.68" y2="99.96" stroke="#333" stroke-width="1"/>
<rect x="568.58" y="103.38" width="5.20" height="120.62" fill="#333333"/>
<line x1="582.00" y1="186.51" x2="582.00" y2="182.76" stroke="#333" stroke-width="1"/>
<line x1="580.50" y1="182.76" x2="583.50" y2="182.76" stroke="#333" stroke-width="1"/>
<rect x="579.60" y="186.51" width="4.80" height="37.49" fill="#d9d9d9" stroke="#3a3a3a" stroke-width="1"/>
<line x1="587.50" y1="100.28" x2="587.50" y2="96.70" stroke="#333" stroke-width="1"/>
<line x1="586.00" y1="96.70" x2="589.00" y2="96.70" stroke="#333" stroke-width="1"/>
<rect x="584.90" y="100.28" width="5.20" height="123.72" fill="#333333"/>
<line x1="598.32" y1="186.51" x2="598.32" y2="185.37" stroke="#333" stroke-width="1"/>
<line x1="596.82" y1="185.37" x2="599.82" y2="185.37" stroke="#333" stroke-width="1"/>
<rect x="595.92" y="186.51" width="4.80" height="37.49" fill="#d9d9d9" stroke="#3a3a3a" stroke-width="1"/>
<line x1="603.82" y1="100.28" x2="603.82" y2="97.51" stroke="#333" stroke-width="1"/>
<line x1="602.32" y1="97.51" x2="605.32" y2="97.51" stroke="#333" stroke-width="1"/>
<rect x="601.22" y="100.28" width="5.20" height="123.72" fill="#333333"/>
<line x1="614.64" y1="187.65" x2="614.64" y2="184.39" stroke="#333" stroke-width="1"/>
<line x1="613.14" y1="184.39" x2="616.14" y2="184.39" stroke="#333" stroke-width="1"/>
<rect x="612.24" y="187.65" width="4.80" height="36.35" fill="#d9d9d9" stroke="#3a3a3a" stroke-width="1"/>
<line x1="620.14" y1="99.47" x2="620.14" y2="96.21" stroke="#333" stroke-width="1"/>
<line x1="618.64" y1="96.21" x2="621.64" y2="96.21" stroke="#333" stroke-width="1"/>
<rect x="617.54" y="99.47" width="5.20" height="124.53" fill="#333333"/>
<line x1="630.96" y1="185.69" x2="630.96" y2="183.25" stroke="#333" stroke-width="1"/>
<line x1="629.46" y1="183.25" x2="632.46" y2="183.25" stroke="#333" stroke-width="1"/>
<rect x="628.56" y="185.69" width="4.80" height="38.31" fill="#d9d9d9" stroke="#3a3a3a" stroke-width="1"/>
<line x1="636.46" y1="100.94" x2="636.46" y2="98.49" stroke="#333" stroke-width="1"/>
<line x1="634.96" y1="98.49" x2="637.96" y2="98.49" stroke="#333" stroke-width="1"/>
<rect x="633.86" y="100.94" width="5.20" height="123.06" fill="#333333"/>
<line x1="647.28" y1="185.37" x2="647.28" y2="182.44" stroke="#333" stroke-width="1"/>
<line x1="645.78" y1="182.44" x2="648.78" y2="182.44" stroke="#333" stroke-width="1"/>
<rect x="644.88" y="185.37" width="4.80" height="38.63" fill="#d9d9d9" stroke="#3a3a3a" stroke-width="1"/>
<line x1="652.78" y1="101.75" x2="652.78" y2="99.31" stroke="#333" stroke-width="1"/>
<line x1="651.28" y1="99.31" x2="654.28" y2="99.31" stroke="#333" stroke-width="1"/>
<rect x="650.18" y="101.75" width="5.20" height="122.25" fill="#333333"/>
<line x1="415.00" y1="184.88" x2="656.18" y2="184.88" stroke="#b8121a" stroke-width="1.9" stroke-dasharray="4.5 3.6"/>
<line x1="413.50" y1="61.00" x2="413.50" y2="225.00" stroke="#111" stroke-width="2"/>
<line x1="409.00" y1="224.00" x2="413.50" y2="224.00" stroke="#111" stroke-width="1.3"/>
<text x="407.50" y="226.40" font-size="6.7" font-weight="bold" text-anchor="end" fill="#111">0</text>
<line x1="409.00" y1="191.40" x2="413.50" y2="191.40" stroke="#111" stroke-width="1.3"/>
<text x="407.50" y="193.80" font-size="6.7" font-weight="bold" text-anchor="end" fill="#111">20</text>
<line x1="409.00" y1="158.80" x2="413.50" y2="158.80" stroke="#111" stroke-width="1.3"/>
<text x="407.50" y="161.20" font-size="6.7" font-weight="bold" text-anchor="end" fill="#111">40</text>
<line x1="409.00" y1="126.20" x2="413.50" y2="126.20" stroke="#111" stroke-width="1.3"/>
<text x="407.50" y="128.60" font-size="6.7" font-weight="bold" text-anchor="end" fill="#111">60</text>
<line x1="409.00" y1="93.60" x2="413.50" y2="93.60" stroke="#111" stroke-width="1.3"/>
<text x="407.50" y="96.00" font-size="6.7" font-weight="bold" text-anchor="end" fill="#111">80</text>
<line x1="409.00" y1="61.00" x2="413.50" y2="61.00" stroke="#111" stroke-width="1.3"/>
<text x="407.50" y="63.40" font-size="6.7" font-weight="bold" text-anchor="end" fill="#111">100</text>
<line x1="412.50" y1="224.00" x2="658.18" y2="224.00" stroke="#111" stroke-width="2"/>
<line x1="421.70" y1="224.00" x2="421.70" y2="228.50" stroke="#111" stroke-width="1.3"/>
<line x1="438.02" y1="224.00" x2="438.02" y2="228.50" stroke="#111" stroke-width="1.3"/>
<text x="438.02" y="238.00" font-size="6.6" font-weight="bold" text-anchor="middle" fill="#111">1</text>
<line x1="454.34" y1="224.00" x2="454.34" y2="228.50" stroke="#111" stroke-width="1.3"/>
<text x="454.34" y="238.00" font-size="6.6" font-weight="bold" text-anchor="middle" fill="#111">2</text>
<line x1="470.66" y1="224.00" x2="470.66" y2="228.50" stroke="#111" stroke-width="1.3"/>
<text x="470.66" y="238.00" font-size="6.6" font-weight="bold" text-anchor="middle" fill="#111">3</text>
<line x1="486.98" y1="224.00" x2="486.98" y2="228.50" stroke="#111" stroke-width="1.3"/>
<text x="486.98" y="238.00" font-size="6.6" font-weight="bold" text-anchor="middle" fill="#111">4</text>
<line x1="503.30" y1="224.00" x2="503.30" y2="228.50" stroke="#111" stroke-width="1.3"/>
<text x="503.30" y="238.00" font-size="6.6" font-weight="bold" text-anchor="middle" fill="#111">5</text>
<line x1="519.62" y1="224.00" x2="519.62" y2="228.50" stroke="#111" stroke-width="1.3"/>
<text x="519.62" y="238.00" font-size="6.6" font-weight="bold" text-anchor="middle" fill="#111">6</text>
<line x1="535.94" y1="224.00" x2="535.94" y2="228.50" stroke="#111" stroke-width="1.3"/>
<text x="535.94" y="238.00" font-size="6.6" font-weight="bold" text-anchor="middle" fill="#111">7</text>
<line x1="552.26" y1="224.00" x2="552.26" y2="228.50" stroke="#111" stroke-width="1.3"/>
<text x="552.26" y="238.00" font-size="6.6" font-weight="bold" text-anchor="middle" fill="#111">8</text>
<line x1="568.58" y1="224.00" x2="568.58" y2="228.50" stroke="#111" stroke-width="1.3"/>
<text x="568.58" y="238.00" font-size="6.6" font-weight="bold" text-anchor="middle" fill="#111">9</text>
<line x1="584.90" y1="224.00" x2="584.90" y2="228.50" stroke="#111" stroke-width="1.3"/>
<text x="584.90" y="238.00" font-size="6.6" font-weight="bold" text-anchor="middle" fill="#111">10</text>
<line x1="601.22" y1="224.00" x2="601.22" y2="228.50" stroke="#111" stroke-width="1.3"/>
<text x="601.22" y="238.00" font-size="6.6" font-weight="bold" text-anchor="middle" fill="#111">11</text>
<line x1="617.54" y1="224.00" x2="617.54" y2="228.50" stroke="#111" stroke-width="1.3"/>
<text x="617.54" y="238.00" font-size="6.6" font-weight="bold" text-anchor="middle" fill="#111">12</text>
<line x1="633.86" y1="224.00" x2="633.86" y2="228.50" stroke="#111" stroke-width="1.3"/>
<text x="633.86" y="238.00" font-size="6.6" font-weight="bold" text-anchor="middle" fill="#111">13</text>
<line x1="650.18" y1="224.00" x2="650.18" y2="228.50" stroke="#111" stroke-width="1.3"/>
<text x="650.18" y="238.00" font-size="6.6" font-weight="bold" text-anchor="middle" fill="#111">14</text>
<text x="433.70" y="238.00" font-size="6.6" font-weight="bold" text-anchor="end" fill="#111">Baseline</text>
<text x="660.18" y="232.70" font-size="10.1" font-weight="bold" text-anchor="start" fill="#111">(Day)</text>
<text x="387.90" y="143.00" font-size="9.8" font-weight="bold" text-anchor="middle" fill="#111" transform="rotate(-90 387.90 143.00)" textLength="87" lengthAdjust="spacingAndGlyphs">Activity (% of 24 h)</text>
<text x="436.60" y="130.60" font-size="10.5" font-weight="bold" text-anchor="middle" fill="#222">***</text>
<text x="456.50" y="133.60" font-size="10.5" font-weight="bold" text-anchor="middle" fill="#222">***</text>
<text x="473.60" y="130.60" font-size="10.5" font-weight="bold" text-anchor="middle" fill="#222">***</text>
<text x="489.30" y="108.40" font-size="10.5" font-weight="bold" text-anchor="middle" fill="#222">**</text>
<text x="521.60" y="88.80" font-size="10.5" font-weight="bold" text-anchor="middle" fill="#222">*</text>
<text x="408.90" y="296.70" font-size="16" font-weight="normal" text-anchor="start" fill="#000">D</text>
<line x1="418.60" y1="448.51" x2="418.60" y2="444.91" stroke="#333" stroke-width="1"/>
<line x1="417.10" y1="444.91" x2="420.10" y2="444.91" stroke="#333" stroke-width="1"/>
<rect x="416.20" y="448.51" width="4.80" height="26.19" fill="#d9d9d9" stroke="#3a3a3a" stroke-width="1"/>
<line x1="424.10" y1="338.67" x2="424.10" y2="335.39" stroke="#333" stroke-width="1"/>
<line x1="422.60" y1="335.39" x2="425.60" y2="335.39" stroke="#333" stroke-width="1"/>
<rect x="421.50" y="338.67" width="5.20" height="136.03" fill="#333333"/>
<line x1="434.92" y1="342.10" x2="434.92" y2="339.48" stroke="#333" stroke-width="1"/>
<line x1="433.42" y1="339.48" x2="436.42" y2="339.48" stroke="#333" stroke-width="1"/>
<rect x="432.52" y="342.10" width="4.80" height="132.60" fill="#d9d9d9" stroke="#3a3a3a" stroke-width="1"/>
<line x1="440.42" y1="445.56" x2="440.42" y2="441.80" stroke="#333" stroke-width="1"/>
<line x1="438.92" y1="441.80" x2="441.92" y2="441.80" stroke="#333" stroke-width="1"/>
<rect x="437.82" y="445.56" width="5.20" height="29.14" fill="#333333"/>
<line x1="451.24" y1="366.17" x2="451.24" y2="361.42" stroke="#333" stroke-width="1"/>
<line x1="449.74" y1="361.42" x2="452.74" y2="361.42" stroke="#333" stroke-width="1"/>
<rect x="448.84" y="366.17" width="4.80" height="108.53" fill="#d9d9d9" stroke="#3a3a3a" stroke-width="1"/>
<line x1="456.74" y1="420.84" x2="456.74" y2="416.10" stroke="#333" stroke-width="1"/>
<line x1="455.24" y1="416.10" x2="458.24" y2="416.10" stroke="#333" stroke-width="1"/>
<rect x="454.14" y="420.84" width="5.20" height="53.86" fill="#333333"/>
<line x1="467.56" y1="374.68" x2="467.56" y2="371.41" stroke="#333" stroke-width="1"/>
<line x1="466.06" y1="371.41" x2="469.06" y2="371.41" stroke="#333" stroke-width="1"/>
<rect x="465.16" y="374.68" width="4.80" height="100.02" fill="#d9d9d9" stroke="#3a3a3a" stroke-width="1"/>
<line x1="473.06" y1="412.33" x2="473.06" y2="408.89" stroke="#333" stroke-width="1"/>
<line x1="471.56" y1="408.89" x2="474.56" y2="408.89" stroke="#333" stroke-width="1"/>
<rect x="470.46" y="412.33" width="5.20" height="62.37" fill="#333333"/>
<line x1="483.88" y1="390.56" x2="483.88" y2="385.65" stroke="#333" stroke-width="1"/>
<line x1="482.38" y1="385.65" x2="485.38" y2="385.65" stroke="#333" stroke-width="1"/>
<rect x="481.48" y="390.56" width="4.80" height="84.14" fill="#d9d9d9" stroke="#3a3a3a" stroke-width="1"/>
<line x1="489.38" y1="396.62" x2="489.38" y2="391.38" stroke="#333" stroke-width="1"/>
<line x1="487.88" y1="391.38" x2="490.88" y2="391.38" stroke="#333" stroke-width="1"/>
<rect x="486.78" y="396.62" width="5.20" height="78.08" fill="#333333"/>
<line x1="500.20" y1="420.84" x2="500.20" y2="415.11" stroke="#333" stroke-width="1"/>
<line x1="498.70" y1="415.11" x2="501.70" y2="415.11" stroke="#333" stroke-width="1"/>
<rect x="497.80" y="420.84" width="4.80" height="53.86" fill="#d9d9d9" stroke="#3a3a3a" stroke-width="1"/>
<line x1="505.70" y1="366.17" x2="505.70" y2="360.11" stroke="#333" stroke-width="1"/>
<line x1="504.20" y1="360.11" x2="507.20" y2="360.11" stroke="#333" stroke-width="1"/>
<rect x="503.10" y="366.17" width="5.20" height="108.53" fill="#333333"/>
<line x1="516.52" y1="436.39" x2="516.52" y2="431.32" stroke="#333" stroke-width="1"/>
<line x1="515.02" y1="431.32" x2="518.02" y2="431.32" stroke="#333" stroke-width="1"/>
<rect x="514.12" y="436.39" width="4.80" height="38.31" fill="#d9d9d9" stroke="#3a3a3a" stroke-width="1"/>
<line x1="522.02" y1="350.62" x2="522.02" y2="344.89" stroke="#333" stroke-width="1"/>
<line x1="520.52" y1="344.89" x2="523.52" y2="344.89" stroke="#333" stroke-width="1"/>
<rect x="519.42" y="350.62" width="5.20" height="124.08" fill="#333333"/>
<line x1="532.84" y1="441.31" x2="532.84" y2="434.76" stroke="#333" stroke-width="1"/>
<line x1="531.34" y1="434.76" x2="534.34" y2="434.76" stroke="#333" stroke-width="1"/>
<rect x="530.44" y="441.31" width="4.80" height="33.39" fill="#d9d9d9" stroke="#3a3a3a" stroke-width="1"/>
<line x1="538.34" y1="345.38" x2="538.34" y2="338.17" stroke="#333" stroke-width="1"/>
<line x1="536.84" y1="338.17" x2="539.84" y2="338.17" stroke="#333" stroke-width="1"/>
<rect x="535.74" y="345.38" width="5.20" height="129.32" fill="#333333"/>
<line x1="549.16" y1="427.06" x2="549.16" y2="419.53" stroke="#333" stroke-width="1"/>
<line x1="547.66" y1="419.53" x2="550.66" y2="419.53" stroke="#333" stroke-width="1"/>
<rect x="546.76" y="427.06" width="4.80" height="47.64" fill="#d9d9d9" stroke="#3a3a3a" stroke-width="1"/>
<line x1="554.66" y1="359.62" x2="554.66" y2="351.60" stroke="#333" stroke-width="1"/>
<line x1="553.16" y1="351.60" x2="556.16" y2="351.60" stroke="#333" stroke-width="1"/>
<rect x="552.06" y="359.62" width="5.20" height="115.08" fill="#333333"/>
<line x1="565.48" y1="435.58" x2="565.48" y2="427.55" stroke="#333" stroke-width="1"/>
<line x1="563.98" y1="427.55" x2="566.98" y2="427.55" stroke="#333" stroke-width="1"/>
<rect x="563.08" y="435.58" width="4.80" height="39.12" fill="#d9d9d9" stroke="#3a3a3a" stroke-width="1"/>
<line x1="570.98" y1="351.11" x2="570.98" y2="342.59" stroke="#333" stroke-width="1"/>
<line x1="569.48" y1="342.59" x2="572.48" y2="342.59" stroke="#333" stroke-width="1"/>
<rect x="568.38" y="351.11" width="5.20" height="123.59" fill="#333333"/>
<line x1="581.80" y1="435.90" x2="581.80" y2="422.48" stroke="#333" stroke-width="1"/>
<line x1="580.30" y1="422.48" x2="583.30" y2="422.48" stroke="#333" stroke-width="1"/>
<rect x="579.40" y="435.90" width="4.80" height="38.80" fill="#d9d9d9" stroke="#3a3a3a" stroke-width="1"/>
<line x1="587.30" y1="351.11" x2="587.30" y2="337.36" stroke="#333" stroke-width="1"/>
<line x1="585.80" y1="337.36" x2="588.80" y2="337.36" stroke="#333" stroke-width="1"/>
<rect x="584.70" y="351.11" width="5.20" height="123.59" fill="#333333"/>
<line x1="598.12" y1="420.35" x2="598.12" y2="401.85" stroke="#333" stroke-width="1"/>
<line x1="596.62" y1="401.85" x2="599.62" y2="401.85" stroke="#333" stroke-width="1"/>
<rect x="595.72" y="420.35" width="4.80" height="54.35" fill="#d9d9d9" stroke="#3a3a3a" stroke-width="1"/>
<line x1="603.62" y1="366.82" x2="603.62" y2="347.83" stroke="#333" stroke-width="1"/>
<line x1="602.12" y1="347.83" x2="605.12" y2="347.83" stroke="#333" stroke-width="1"/>
<rect x="601.02" y="366.82" width="5.20" height="107.88" fill="#333333"/>
<line x1="614.44" y1="446.22" x2="614.44" y2="441.80" stroke="#333" stroke-width="1"/>
<line x1="612.94" y1="441.80" x2="615.94" y2="441.80" stroke="#333" stroke-width="1"/>
<rect x="612.04" y="446.22" width="4.80" height="28.48" fill="#d9d9d9" stroke="#3a3a3a" stroke-width="1"/>
<line x1="619.94" y1="341.12" x2="619.94" y2="337.36" stroke="#333" stroke-width="1"/>
<line x1="618.44" y1="337.36" x2="621.44" y2="337.36" stroke="#333" stroke-width="1"/>
<rect x="617.34" y="341.12" width="5.20" height="133.58" fill="#333333"/>
<line x1="630.76" y1="445.56" x2="630.76" y2="441.80" stroke="#333" stroke-width="1"/>
<line x1="629.26" y1="441.80" x2="632.26" y2="441.80" stroke="#333" stroke-width="1"/>
<rect x="628.36" y="445.56" width="4.80" height="29.14" fill="#d9d9d9" stroke="#3a3a3a" stroke-width="1"/>
<line x1="636.26" y1="341.45" x2="636.26" y2="337.85" stroke="#333" stroke-width="1"/>
<line x1="634.76" y1="337.85" x2="637.76" y2="337.85" stroke="#333" stroke-width="1"/>
<rect x="633.66" y="341.45" width="5.20" height="133.25" fill="#333333"/>
<line x1="647.08" y1="444.09" x2="647.08" y2="437.54" stroke="#333" stroke-width="1"/>
<line x1="645.58" y1="437.54" x2="648.58" y2="437.54" stroke="#333" stroke-width="1"/>
<rect x="644.68" y="444.09" width="4.80" height="30.61" fill="#d9d9d9" stroke="#3a3a3a" stroke-width="1"/>
<line x1="652.58" y1="343.09" x2="652.58" y2="336.37" stroke="#333" stroke-width="1"/>
<line x1="651.08" y1="336.37" x2="654.08" y2="336.37" stroke="#333" stroke-width="1"/>
<rect x="649.98" y="343.09" width="5.20" height="131.61" fill="#333333"/>
<line x1="414.90" y1="447.53" x2="655.98" y2="447.53" stroke="#b8121a" stroke-width="1.9" stroke-dasharray="4.5 3.6"/>
<line x1="413.40" y1="311.00" x2="413.40" y2="475.70" stroke="#111" stroke-width="2"/>
<line x1="408.90" y1="474.70" x2="413.40" y2="474.70" stroke="#111" stroke-width="1.3"/>
<text x="407.40" y="477.10" font-size="6.7" font-weight="bold" text-anchor="end" fill="#111">0</text>
<line x1="408.90" y1="441.96" x2="413.40" y2="441.96" stroke="#111" stroke-width="1.3"/>
<text x="407.40" y="444.36" font-size="6.7" font-weight="bold" text-anchor="end" fill="#111">20</text>
<line x1="408.90" y1="409.22" x2="413.40" y2="409.22" stroke="#111" stroke-width="1.3"/>
<text x="407.40" y="411.62" font-size="6.7" font-weight="bold" text-anchor="end" fill="#111">40</text>
<line x1="408.90" y1="376.48" x2="413.40" y2="376.48" stroke="#111" stroke-width="1.3"/>
<text x="407.40" y="378.88" font-size="6.7" font-weight="bold" text-anchor="end" fill="#111">60</text>
<line x1="408.90" y1="343.74" x2="413.40" y2="343.74" stroke="#111" stroke-width="1.3"/>
<text x="407.40" y="346.14" font-size="6.7" font-weight="bold" text-anchor="end" fill="#111">80</text>
<line x1="408.90" y1="311.00" x2="413.40" y2="311.00" stroke="#111" stroke-width="1.3"/>
<text x="407.40" y="313.40" font-size="6.7" font-weight="bold" text-anchor="end" fill="#111">100</text>
<line x1="412.40" y1="474.70" x2="657.98" y2="474.70" stroke="#111" stroke-width="2"/>
<line x1="421.50" y1="474.70" x2="421.50" y2="479.20" stroke="#111" stroke-width="1.3"/>
<line x1="437.82" y1="474.70" x2="437.82" y2="479.20" stroke="#111" stroke-width="1.3"/>
<text x="437.82" y="488.00" font-size="6.6" font-weight="bold" text-anchor="middle" fill="#111">1</text>
<line x1="454.14" y1="474.70" x2="454.14" y2="479.20" stroke="#111" stroke-width="1.3"/>
<text x="454.14" y="488.00" font-size="6.6" font-weight="bold" text-anchor="middle" fill="#111">2</text>
<line x1="470.46" y1="474.70" x2="470.46" y2="479.20" stroke="#111" stroke-width="1.3"/>
<text x="470.46" y="488.00" font-size="6.6" font-weight="bold" text-anchor="middle" fill="#111">3</text>
<line x1="486.78" y1="474.70" x2="486.78" y2="479.20" stroke="#111" stroke-width="1.3"/>
<text x="486.78" y="488.00" font-size="6.6" font-weight="bold" text-anchor="middle" fill="#111">4</text>
<line x1="503.10" y1="474.70" x2="503.10" y2="479.20" stroke="#111" stroke-width="1.3"/>
<text x="503.10" y="488.00" font-size="6.6" font-weight="bold" text-anchor="middle" fill="#111">5</text>
<line x1="519.42" y1="474.70" x2="519.42" y2="479.20" stroke="#111" stroke-width="1.3"/>
<text x="519.42" y="488.00" font-size="6.6" font-weight="bold" text-anchor="middle" fill="#111">6</text>
<line x1="535.74" y1="474.70" x2="535.74" y2="479.20" stroke="#111" stroke-width="1.3"/>
<text x="535.74" y="488.00" font-size="6.6" font-weight="bold" text-anchor="middle" fill="#111">7</text>
<line x1="552.06" y1="474.70" x2="552.06" y2="479.20" stroke="#111" stroke-width="1.3"/>
<text x="552.06" y="488.00" font-size="6.6" font-weight="bold" text-anchor="middle" fill="#111">8</text>
<line x1="568.38" y1="474.70" x2="568.38" y2="479.20" stroke="#111" stroke-width="1.3"/>
<text x="568.38" y="488.00" font-size="6.6" font-weight="bold" text-anchor="middle" fill="#111">9</text>
<line x1="584.70" y1="474.70" x2="584.70" y2="479.20" stroke="#111" stroke-width="1.3"/>
<text x="584.70" y="488.00" font-size="6.6" font-weight="bold" text-anchor="middle" fill="#111">10</text>
<line x1="601.02" y1="474.70" x2="601.02" y2="479.20" stroke="#111" stroke-width="1.3"/>
<text x="601.02" y="488.00" font-size="6.6" font-weight="bold" text-anchor="middle" fill="#111">11</text>
<line x1="617.34" y1="474.70" x2="617.34" y2="479.20" stroke="#111" stroke-width="1.3"/>
<text x="617.34" y="488.00" font-size="6.6" font-weight="bold" text-anchor="middle" fill="#111">12</text>
<line x1="633.66" y1="474.70" x2="633.66" y2="479.20" stroke="#111" stroke-width="1.3"/>
<text x="633.66" y="488.00" font-size="6.6" font-weight="bold" text-anchor="middle" fill="#111">13</text>
<line x1="649.98" y1="474.70" x2="649.98" y2="479.20" stroke="#111" stroke-width="1.3"/>
<text x="649.98" y="488.00" font-size="6.6" font-weight="bold" text-anchor="middle" fill="#111">14</text>
<text x="433.50" y="488.00" font-size="6.6" font-weight="bold" text-anchor="end" fill="#111">Baseline</text>
<text x="659.98" y="483.40" font-size="10.1" font-weight="bold" text-anchor="start" fill="#111">(Day)</text>
<text x="387.50" y="393.70" font-size="9.8" font-weight="bold" text-anchor="middle" fill="#111" transform="rotate(-90 387.50 393.70)" textLength="108" lengthAdjust="spacingAndGlyphs">Food intake (% of 24 h)</text>
<text x="436.60" y="339.40" font-size="10.5" font-weight="bold" text-anchor="middle" fill="#222">***</text>
<text x="451.70" y="361.20" font-size="10.5" font-weight="bold" text-anchor="middle" fill="#222">***</text>
<text x="467.90" y="370.70" font-size="10.5" font-weight="bold" text-anchor="middle" fill="#222">***</text>
<text x="485.90" y="384.40" font-size="10.5" font-weight="bold" text-anchor="middle" fill="#222">***</text>
<text x="506.40" y="359.30" font-size="10.5" font-weight="bold" text-anchor="middle" fill="#222">***</text>
<text x="553.70" y="348.00" font-size="10.5" font-weight="bold" text-anchor="middle" fill="#222">*</text>
<text x="410.30" y="561.20" font-size="16" font-weight="normal" text-anchor="start" fill="#000">F</text>
<line x1="418.40" y1="740.76" x2="418.40" y2="738.80" stroke="#333" stroke-width="1"/>
<line x1="416.90" y1="738.80" x2="419.90" y2="738.80" stroke="#333" stroke-width="1"/>
<rect x="416.00" y="740.76" width="4.80" height="10.44" fill="#d9d9d9" stroke="#3a3a3a" stroke-width="1"/>
<line x1="423.90" y1="599.59" x2="423.90" y2="597.47" stroke="#333" stroke-width="1"/>
<line x1="422.40" y1="597.47" x2="425.40" y2="597.47" stroke="#333" stroke-width="1"/>
<rect x="421.30" y="599.59" width="5.20" height="151.61" fill="#333333"/>
<line x1="434.72" y1="612.64" x2="434.72" y2="610.03" stroke="#333" stroke-width="1"/>
<line x1="433.22" y1="610.03" x2="436.22" y2="610.03" stroke="#333" stroke-width="1"/>
<rect x="432.32" y="612.64" width="4.80" height="138.56" fill="#d9d9d9" stroke="#3a3a3a" stroke-width="1"/>
<line x1="440.22" y1="727.86" x2="440.22" y2="724.60" stroke="#333" stroke-width="1"/>
<line x1="438.72" y1="724.60" x2="441.72" y2="724.60" stroke="#333" stroke-width="1"/>
<rect x="437.62" y="727.86" width="5.20" height="23.34" fill="#333333"/>
<line x1="451.04" y1="657.36" x2="451.04" y2="651.32" stroke="#333" stroke-width="1"/>
<line x1="449.54" y1="651.32" x2="452.54" y2="651.32" stroke="#333" stroke-width="1"/>
<rect x="448.64" y="657.36" width="4.80" height="93.84" fill="#d9d9d9" stroke="#3a3a3a" stroke-width="1"/>
<line x1="456.54" y1="683.31" x2="456.54" y2="677.43" stroke="#333" stroke-width="1"/>
<line x1="455.04" y1="677.43" x2="458.04" y2="677.43" stroke="#333" stroke-width="1"/>
<rect x="453.94" y="683.31" width="5.20" height="67.89" fill="#333333"/>
<line x1="467.36" y1="673.68" x2="467.36" y2="667.48" stroke="#333" stroke-width="1"/>
<line x1="465.86" y1="667.48" x2="468.86" y2="667.48" stroke="#333" stroke-width="1"/>
<rect x="464.96" y="673.68" width="4.80" height="77.52" fill="#d9d9d9" stroke="#3a3a3a" stroke-width="1"/>
<line x1="472.86" y1="666.50" x2="472.86" y2="659.48" stroke="#333" stroke-width="1"/>
<line x1="471.36" y1="659.48" x2="474.36" y2="659.48" stroke="#333" stroke-width="1"/>
<rect x="470.26" y="666.50" width="5.20" height="84.70" fill="#333333"/>
<line x1="483.68" y1="705.50" x2="483.68" y2="699.47" stroke="#333" stroke-width="1"/>
<line x1="482.18" y1="699.47" x2="485.18" y2="699.47" stroke="#333" stroke-width="1"/>
<rect x="481.28" y="705.50" width="4.80" height="45.70" fill="#d9d9d9" stroke="#3a3a3a" stroke-width="1"/>
<line x1="489.18" y1="635.16" x2="489.18" y2="628.47" stroke="#333" stroke-width="1"/>
<line x1="487.68" y1="628.47" x2="490.68" y2="628.47" stroke="#333" stroke-width="1"/>
<rect x="486.58" y="635.16" width="5.20" height="116.04" fill="#333333"/>
<line x1="500.00" y1="731.62" x2="500.00" y2="725.58" stroke="#333" stroke-width="1"/>
<line x1="498.50" y1="725.58" x2="501.50" y2="725.58" stroke="#333" stroke-width="1"/>
<rect x="497.60" y="731.62" width="4.80" height="19.58" fill="#d9d9d9" stroke="#3a3a3a" stroke-width="1"/>
<line x1="505.50" y1="609.38" x2="505.50" y2="602.85" stroke="#333" stroke-width="1"/>
<line x1="504.00" y1="602.85" x2="507.00" y2="602.85" stroke="#333" stroke-width="1"/>
<rect x="502.90" y="609.38" width="5.20" height="141.82" fill="#333333"/>
<line x1="516.32" y1="742.06" x2="516.32" y2="737.49" stroke="#333" stroke-width="1"/>
<line x1="514.82" y1="737.49" x2="517.82" y2="737.49" stroke="#333" stroke-width="1"/>
<rect x="513.92" y="742.06" width="4.80" height="9.14" fill="#d9d9d9" stroke="#3a3a3a" stroke-width="1"/>
<line x1="521.82" y1="599.10" x2="521.82" y2="594.20" stroke="#333" stroke-width="1"/>
<line x1="520.32" y1="594.20" x2="523.32" y2="594.20" stroke="#333" stroke-width="1"/>
<rect x="519.22" y="599.10" width="5.20" height="152.10" fill="#333333"/>
<line x1="532.64" y1="740.76" x2="532.64" y2="735.53" stroke="#333" stroke-width="1"/>
<line x1="531.14" y1="735.53" x2="534.14" y2="735.53" stroke="#333" stroke-width="1"/>
<rect x="530.24" y="740.76" width="4.80" height="10.44" fill="#d9d9d9" stroke="#3a3a3a" stroke-width="1"/>
<line x1="538.14" y1="599.59" x2="538.14" y2="595.18" stroke="#333" stroke-width="1"/>
<line x1="536.64" y1="595.18" x2="539.64" y2="595.18" stroke="#333" stroke-width="1"/>
<rect x="535.54" y="599.59" width="5.20" height="151.61" fill="#333333"/>
<line x1="548.96" y1="723.62" x2="548.96" y2="712.68" stroke="#333" stroke-width="1"/>
<line x1="547.46" y1="712.68" x2="550.46" y2="712.68" stroke="#333" stroke-width="1"/>
<rect x="546.56" y="723.62" width="4.80" height="27.58" fill="#d9d9d9" stroke="#3a3a3a" stroke-width="1"/>
<line x1="554.46" y1="617.05" x2="554.46" y2="605.30" stroke="#333" stroke-width="1"/>
<line x1="552.96" y1="605.30" x2="555.96" y2="605.30" stroke="#333" stroke-width="1"/>
<rect x="551.86" y="617.05" width="5.20" height="134.15" fill="#333333"/>
<line x1="565.28" y1="727.70" x2="565.28" y2="721.82" stroke="#333" stroke-width="1"/>
<line x1="563.78" y1="721.82" x2="566.78" y2="721.82" stroke="#333" stroke-width="1"/>
<rect x="562.88" y="727.70" width="4.80" height="23.50" fill="#d9d9d9" stroke="#3a3a3a" stroke-width="1"/>
<line x1="570.78" y1="612.64" x2="570.78" y2="606.60" stroke="#333" stroke-width="1"/>
<line x1="569.28" y1="606.60" x2="572.28" y2="606.60" stroke="#333" stroke-width="1"/>
<rect x="568.18" y="612.64" width="5.20" height="138.56" fill="#333333"/>
<line x1="581.60" y1="734.72" x2="581.60" y2="729.33" stroke="#333" stroke-width="1"/>
<line x1="580.10" y1="729.33" x2="583.10" y2="729.33" stroke="#333" stroke-width="1"/>
<rect x="579.20" y="734.72" width="4.80" height="16.48" fill="#d9d9d9" stroke="#3a3a3a" stroke-width="1"/>
<line x1="587.10" y1="605.63" x2="587.10" y2="599.91" stroke="#333" stroke-width="1"/>
<line x1="585.60" y1="599.91" x2="588.60" y2="599.91" stroke="#333" stroke-width="1"/>
<rect x="584.50" y="605.63" width="5.20" height="145.57" fill="#333333"/>
<line x1="597.92" y1="733.08" x2="597.92" y2="730.31" stroke="#333" stroke-width="1"/>
<line x1="596.42" y1="730.31" x2="599.42" y2="730.31" stroke="#333" stroke-width="1"/>
<rect x="595.52" y="733.08" width="4.80" height="18.12" fill="#d9d9d9" stroke="#3a3a3a" stroke-width="1"/>
<line x1="603.42" y1="607.58" x2="603.42" y2="604.16" stroke="#333" stroke-width="1"/>
<line x1="601.92" y1="604.16" x2="604.92" y2="604.16" stroke="#333" stroke-width="1"/>
<rect x="600.82" y="607.58" width="5.20" height="143.62" fill="#333333"/>
<line x1="614.24" y1="735.53" x2="614.24" y2="732.60" stroke="#333" stroke-width="1"/>
<line x1="612.74" y1="732.60" x2="615.74" y2="732.60" stroke="#333" stroke-width="1"/>
<rect x="611.84" y="735.53" width="4.80" height="15.67" fill="#d9d9d9" stroke="#3a3a3a" stroke-width="1"/>
<line x1="619.74" y1="605.30" x2="619.74" y2="601.87" stroke="#333" stroke-width="1"/>
<line x1="618.24" y1="601.87" x2="621.24" y2="601.87" stroke="#333" stroke-width="1"/>
<rect x="617.14" y="605.30" width="5.20" height="145.90" fill="#333333"/>
<line x1="630.56" y1="732.60" x2="630.56" y2="725.90" stroke="#333" stroke-width="1"/>
<line x1="629.06" y1="725.90" x2="632.06" y2="725.90" stroke="#333" stroke-width="1"/>
<rect x="628.16" y="732.60" width="4.80" height="18.60" fill="#d9d9d9" stroke="#3a3a3a" stroke-width="1"/>
<line x1="636.06" y1="608.07" x2="636.06" y2="601.38" stroke="#333" stroke-width="1"/>
<line x1="634.56" y1="601.38" x2="637.56" y2="601.38" stroke="#333" stroke-width="1"/>
<rect x="633.46" y="608.07" width="5.20" height="143.13" fill="#333333"/>
<line x1="646.88" y1="736.84" x2="646.88" y2="730.31" stroke="#333" stroke-width="1"/>
<line x1="645.38" y1="730.31" x2="648.38" y2="730.31" stroke="#333" stroke-width="1"/>
<rect x="644.48" y="736.84" width="4.80" height="14.36" fill="#d9d9d9" stroke="#3a3a3a" stroke-width="1"/>
<line x1="652.38" y1="603.83" x2="652.38" y2="596.81" stroke="#333" stroke-width="1"/>
<line x1="650.88" y1="596.81" x2="653.88" y2="596.81" stroke="#333" stroke-width="1"/>
<rect x="649.78" y="603.83" width="5.20" height="147.37" fill="#333333"/>
<line x1="414.80" y1="739.78" x2="655.78" y2="739.78" stroke="#b8121a" stroke-width="1.9" stroke-dasharray="4.5 3.6"/>
<line x1="413.30" y1="588.00" x2="413.30" y2="752.20" stroke="#111" stroke-width="2"/>
<line x1="408.80" y1="751.20" x2="413.30" y2="751.20" stroke="#111" stroke-width="1.3"/>
<text x="407.30" y="753.60" font-size="6.7" font-weight="bold" text-anchor="end" fill="#111">0</text>
<line x1="408.80" y1="718.56" x2="413.30" y2="718.56" stroke="#111" stroke-width="1.3"/>
<text x="407.30" y="720.96" font-size="6.7" font-weight="bold" text-anchor="end" fill="#111">20</text>
<line x1="408.80" y1="685.92" x2="413.30" y2="685.92" stroke="#111" stroke-width="1.3"/>
<text x="407.30" y="688.32" font-size="6.7" font-weight="bold" text-anchor="end" fill="#111">40</text>
<line x1="408.80" y1="653.28" x2="413.30" y2="653.28" stroke="#111" stroke-width="1.3"/>
<text x="407.30" y="655.68" font-size="6.7" font-weight="bold" text-anchor="end" fill="#111">60</text>
<line x1="408.80" y1="620.64" x2="413.30" y2="620.64" stroke="#111" stroke-width="1.3"/>
<text x="407.30" y="623.04" font-size="6.7" font-weight="bold" text-anchor="end" fill="#111">80</text>
<line x1="408.80" y1="588.00" x2="413.30" y2="588.00" stroke="#111" stroke-width="1.3"/>
<text x="407.30" y="590.40" font-size="6.7" font-weight="bold" text-anchor="end" fill="#111">100</text>
<line x1="412.30" y1="751.20" x2="657.78" y2="751.20" stroke="#111" stroke-width="2"/>
<line x1="421.30" y1="751.20" x2="421.30" y2="755.70" stroke="#111" stroke-width="1.3"/>
<line x1="437.62" y1="751.20" x2="437.62" y2="755.70" stroke="#111" stroke-width="1.3"/>
<text x="437.62" y="764.80" font-size="6.6" font-weight="bold" text-anchor="middle" fill="#111">1</text>
<line x1="453.94" y1="751.20" x2="453.94" y2="755.70" stroke="#111" stroke-width="1.3"/>
<text x="453.94" y="764.80" font-size="6.6" font-weight="bold" text-anchor="middle" fill="#111">2</text>
<line x1="470.26" y1="751.20" x2="470.26" y2="755.70" stroke="#111" stroke-width="1.3"/>
<text x="470.26" y="764.80" font-size="6.6" font-weight="bold" text-anchor="middle" fill="#111">3</text>
<line x1="486.58" y1="751.20" x2="486.58" y2="755.70" stroke="#111" stroke-width="1.3"/>
<text x="486.58" y="764.80" font-size="6.6" font-weight="bold" text-anchor="middle" fill="#111">4</text>
<line x1="502.90" y1="751.20" x2="502.90" y2="755.70" stroke="#111" stroke-width="1.3"/>
<text x="502.90" y="764.80" font-size="6.6" font-weight="bold" text-anchor="middle" fill="#111">5</text>
<line x1="519.22" y1="751.20" x2="519.22" y2="755.70" stroke="#111" stroke-width="1.3"/>
<text x="519.22" y="764.80" font-size="6.6" font-weight="bold" text-anchor="middle" fill="#111">6</text>
<line x1="535.54" y1="751.20" x2="535.54" y2="755.70" stroke="#111" stroke-width="1.3"/>
<text x="535.54" y="764.80" font-size="6.6" font-weight="bold" text-anchor="middle" fill="#111">7</text>
<line x1="551.86" y1="751.20" x2="551.86" y2="755.70" stroke="#111" stroke-width="1.3"/>
<text x="551.86" y="764.80" font-size="6.6" font-weight="bold" text-anchor="middle" fill="#111">8</text>
<line x1="568.18" y1="751.20" x2="568.18" y2="755.70" stroke="#111" stroke-width="1.3"/>
<text x="568.18" y="764.80" font-size="6.6" font-weight="bold" text-anchor="middle" fill="#111">9</text>
<line x1="584.50" y1="751.20" x2="584.50" y2="755.70" stroke="#111" stroke-width="1.3"/>
<text x="584.50" y="764.80" font-size="6.6" font-weight="bold" text-anchor="middle" fill="#111">10</text>
<line x1="600.82" y1="751.20" x2="600.82" y2="755.70" stroke="#111" stroke-width="1.3"/>
<text x="600.82" y="764.80" font-size="6.6" font-weight="bold" text-anchor="middle" fill="#111">11</text>
<line x1="617.14" y1="751.20" x2="617.14" y2="755.70" stroke="#111" stroke-width="1.3"/>
<text x="617.14" y="764.80" font-size="6.6" font-weight="bold" text-anchor="middle" fill="#111">12</text>
<line x1="633.46" y1="751.20" x2="633.46" y2="755.70" stroke="#111" stroke-width="1.3"/>
<text x="633.46" y="764.80" font-size="6.6" font-weight="bold" text-anchor="middle" fill="#111">13</text>
<line x1="649.78" y1="751.20" x2="649.78" y2="755.70" stroke="#111" stroke-width="1.3"/>
<text x="649.78" y="764.80" font-size="6.6" font-weight="bold" text-anchor="middle" fill="#111">14</text>
<text x="433.30" y="764.80" font-size="6.6" font-weight="bold" text-anchor="end" fill="#111">Baseline</text>
<text x="659.78" y="759.90" font-size="10.1" font-weight="bold" text-anchor="start" fill="#111">(Day)</text>
<text x="387.90" y="672.00" font-size="9.8" font-weight="bold" text-anchor="middle" fill="#111" transform="rotate(-90 387.90 672.00)" textLength="114.5" lengthAdjust="spacingAndGlyphs">Water intake (% of 24 h)</text>
<text x="436.60" y="609.30" font-size="10.5" font-weight="bold" text-anchor="middle" fill="#222">***</text>
<text x="452.10" y="650.10" font-size="10.5" font-weight="bold" text-anchor="middle" fill="#222">***</text>
<text x="474.10" y="657.10" font-size="10.5" font-weight="bold" text-anchor="middle" fill="#222">***</text>
<text x="490.10" y="628.30" font-size="10.5" font-weight="bold" text-anchor="middle" fill="#222">***</text>
<text x="570.80" y="604.00" font-size="10.5" font-weight="bold" text-anchor="middle" fill="#222">*</text>
<text x="603.00" y="600.60" font-size="10.5" font-weight="bold" text-anchor="middle" fill="#222">*</text>
<text x="409.40" y="828.00" font-size="16" font-weight="normal" text-anchor="start" fill="#000">H</text>
<line x1="417.20" y1="940.92" x2="417.20" y2="939.94" stroke="#333" stroke-width="1"/>
<line x1="415.70" y1="939.94" x2="418.70" y2="939.94" stroke="#333" stroke-width="1"/>
<rect x="414.80" y="940.92" width="4.80" height="71.08" fill="#d9d9d9" stroke="#3a3a3a" stroke-width="1"/>
<line x1="422.70" y1="920.33" x2="422.70" y2="918.86" stroke="#333" stroke-width="1"/>
<line x1="421.20" y1="918.86" x2="424.20" y2="918.86" stroke="#333" stroke-width="1"/>
<rect x="420.10" y="920.33" width="5.20" height="91.67" fill="#333333"/>
<line x1="433.52" y1="930.79" x2="433.52" y2="928.99" stroke="#333" stroke-width="1"/>
<line x1="432.02" y1="928.99" x2="435.02" y2="928.99" stroke="#333" stroke-width="1"/>
<rect x="431.12" y="930.79" width="4.80" height="81.21" fill="#d9d9d9" stroke="#3a3a3a" stroke-width="1"/>
<line x1="439.02" y1="931.77" x2="439.02" y2="928.50" stroke="#333" stroke-width="1"/>
<line x1="437.52" y1="928.50" x2="440.52" y2="928.50" stroke="#333" stroke-width="1"/>
<rect x="436.42" y="931.77" width="5.20" height="80.23" fill="#333333"/>
<line x1="449.84" y1="928.50" x2="449.84" y2="927.69" stroke="#333" stroke-width="1"/>
<line x1="448.34" y1="927.69" x2="451.34" y2="927.69" stroke="#333" stroke-width="1"/>
<rect x="447.44" y="928.50" width="4.80" height="83.50" fill="#d9d9d9" stroke="#3a3a3a" stroke-width="1"/>
<line x1="455.34" y1="933.08" x2="455.34" y2="931.93" stroke="#333" stroke-width="1"/>
<line x1="453.84" y1="931.93" x2="456.84" y2="931.93" stroke="#333" stroke-width="1"/>
<rect x="452.74" y="933.08" width="5.20" height="78.92" fill="#333333"/>
<line x1="466.16" y1="933.73" x2="466.16" y2="931.12" stroke="#333" stroke-width="1"/>
<line x1="464.66" y1="931.12" x2="467.66" y2="931.12" stroke="#333" stroke-width="1"/>
<rect x="463.76" y="933.73" width="4.80" height="78.27" fill="#d9d9d9" stroke="#3a3a3a" stroke-width="1"/>
<line x1="471.66" y1="928.50" x2="471.66" y2="926.05" stroke="#333" stroke-width="1"/>
<line x1="470.16" y1="926.05" x2="473.16" y2="926.05" stroke="#333" stroke-width="1"/>
<rect x="469.06" y="928.50" width="5.20" height="83.50" fill="#333333"/>
<line x1="482.48" y1="936.02" x2="482.48" y2="934.71" stroke="#333" stroke-width="1"/>
<line x1="480.98" y1="934.71" x2="483.98" y2="934.71" stroke="#333" stroke-width="1"/>
<rect x="480.08" y="936.02" width="4.80" height="75.98" fill="#d9d9d9" stroke="#3a3a3a" stroke-width="1"/>
<line x1="487.98" y1="925.72" x2="487.98" y2="924.09" stroke="#333" stroke-width="1"/>
<line x1="486.48" y1="924.09" x2="489.48" y2="924.09" stroke="#333" stroke-width="1"/>
<rect x="485.38" y="925.72" width="5.20" height="86.28" fill="#333333"/>
<line x1="498.80" y1="940.76" x2="498.80" y2="939.61" stroke="#333" stroke-width="1"/>
<line x1="497.30" y1="939.61" x2="500.30" y2="939.61" stroke="#333" stroke-width="1"/>
<rect x="496.40" y="940.76" width="4.80" height="71.24" fill="#d9d9d9" stroke="#3a3a3a" stroke-width="1"/>
<line x1="504.30" y1="921.31" x2="504.30" y2="920.33" stroke="#333" stroke-width="1"/>
<line x1="502.80" y1="920.33" x2="505.80" y2="920.33" stroke="#333" stroke-width="1"/>
<rect x="501.70" y="921.31" width="5.20" height="90.69" fill="#333333"/>
<line x1="515.12" y1="942.56" x2="515.12" y2="941.74" stroke="#333" stroke-width="1"/>
<line x1="513.62" y1="941.74" x2="516.62" y2="941.74" stroke="#333" stroke-width="1"/>
<rect x="512.72" y="942.56" width="4.80" height="69.44" fill="#d9d9d9" stroke="#3a3a3a" stroke-width="1"/>
<line x1="520.62" y1="919.52" x2="520.62" y2="918.05" stroke="#333" stroke-width="1"/>
<line x1="519.12" y1="918.05" x2="522.12" y2="918.05" stroke="#333" stroke-width="1"/>
<rect x="518.02" y="919.52" width="5.20" height="92.48" fill="#333333"/>
<line x1="531.44" y1="944.68" x2="531.44" y2="943.70" stroke="#333" stroke-width="1"/>
<line x1="529.94" y1="943.70" x2="532.94" y2="943.70" stroke="#333" stroke-width="1"/>
<rect x="529.04" y="944.68" width="4.80" height="67.32" fill="#d9d9d9" stroke="#3a3a3a" stroke-width="1"/>
<line x1="536.94" y1="918.05" x2="536.94" y2="916.90" stroke="#333" stroke-width="1"/>
<line x1="535.44" y1="916.90" x2="538.44" y2="916.90" stroke="#333" stroke-width="1"/>
<rect x="534.34" y="918.05" width="5.20" height="93.95" fill="#333333"/>
<line x1="547.76" y1="945.66" x2="547.76" y2="944.52" stroke="#333" stroke-width="1"/>
<line x1="546.26" y1="944.52" x2="549.26" y2="944.52" stroke="#333" stroke-width="1"/>
<rect x="545.36" y="945.66" width="4.80" height="66.34" fill="#d9d9d9" stroke="#3a3a3a" stroke-width="1"/>
<line x1="553.26" y1="916.90" x2="553.26" y2="915.27" stroke="#333" stroke-width="1"/>
<line x1="551.76" y1="915.27" x2="554.76" y2="915.27" stroke="#333" stroke-width="1"/>
<rect x="550.66" y="916.90" width="5.20" height="95.10" fill="#333333"/>
<line x1="564.08" y1="943.70" x2="564.08" y2="941.90" stroke="#333" stroke-width="1"/>
<line x1="562.58" y1="941.90" x2="565.58" y2="941.90" stroke="#333" stroke-width="1"/>
<rect x="561.68" y="943.70" width="4.80" height="68.30" fill="#d9d9d9" stroke="#3a3a3a" stroke-width="1"/>
<line x1="569.58" y1="918.86" x2="569.58" y2="917.06" stroke="#333" stroke-width="1"/>
<line x1="568.08" y1="917.06" x2="571.08" y2="917.06" stroke="#333" stroke-width="1"/>
<rect x="566.98" y="918.86" width="5.20" height="93.14" fill="#333333"/>
<line x1="580.40" y1="945.01" x2="580.40" y2="943.70" stroke="#333" stroke-width="1"/>
<line x1="578.90" y1="943.70" x2="581.90" y2="943.70" stroke="#333" stroke-width="1"/>
<rect x="578.00" y="945.01" width="4.80" height="66.99" fill="#d9d9d9" stroke="#3a3a3a" stroke-width="1"/>
<line x1="585.90" y1="917.55" x2="585.90" y2="915.59" stroke="#333" stroke-width="1"/>
<line x1="584.40" y1="915.59" x2="587.40" y2="915.59" stroke="#333" stroke-width="1"/>
<rect x="583.30" y="917.55" width="5.20" height="94.45" fill="#333333"/>
<line x1="596.72" y1="945.99" x2="596.72" y2="945.01" stroke="#333" stroke-width="1"/>
<line x1="595.22" y1="945.01" x2="598.22" y2="945.01" stroke="#333" stroke-width="1"/>
<rect x="594.32" y="945.99" width="4.80" height="66.01" fill="#d9d9d9" stroke="#3a3a3a" stroke-width="1"/>
<line x1="602.22" y1="916.57" x2="602.22" y2="915.27" stroke="#333" stroke-width="1"/>
<line x1="600.72" y1="915.27" x2="603.72" y2="915.27" stroke="#333" stroke-width="1"/>
<rect x="599.62" y="916.57" width="5.20" height="95.43" fill="#333333"/>
<line x1="613.04" y1="943.70" x2="613.04" y2="942.72" stroke="#333" stroke-width="1"/>
<line x1="611.54" y1="942.72" x2="614.54" y2="942.72" stroke="#333" stroke-width="1"/>
<rect x="610.64" y="943.70" width="4.80" height="68.30" fill="#d9d9d9" stroke="#3a3a3a" stroke-width="1"/>
<line x1="618.54" y1="918.86" x2="618.54" y2="915.92" stroke="#333" stroke-width="1"/>
<line x1="617.04" y1="915.92" x2="620.04" y2="915.92" stroke="#333" stroke-width="1"/>
<rect x="615.94" y="918.86" width="5.20" height="93.14" fill="#333333"/>
<line x1="629.36" y1="946.97" x2="629.36" y2="944.68" stroke="#333" stroke-width="1"/>
<line x1="627.86" y1="944.68" x2="630.86" y2="944.68" stroke="#333" stroke-width="1"/>
<rect x="626.96" y="946.97" width="4.80" height="65.03" fill="#d9d9d9" stroke="#3a3a3a" stroke-width="1"/>
<line x1="634.86" y1="915.59" x2="634.86" y2="913.31" stroke="#333" stroke-width="1"/>
<line x1="633.36" y1="913.31" x2="636.36" y2="913.31" stroke="#333" stroke-width="1"/>
<rect x="632.26" y="915.59" width="5.20" height="96.41" fill="#333333"/>
<line x1="645.68" y1="945.01" x2="645.68" y2="943.70" stroke="#333" stroke-width="1"/>
<line x1="644.18" y1="943.70" x2="647.18" y2="943.70" stroke="#333" stroke-width="1"/>
<rect x="643.28" y="945.01" width="4.80" height="66.99" fill="#d9d9d9" stroke="#3a3a3a" stroke-width="1"/>
<line x1="651.18" y1="917.06" x2="651.18" y2="916.08" stroke="#333" stroke-width="1"/>
<line x1="649.68" y1="916.08" x2="652.68" y2="916.08" stroke="#333" stroke-width="1"/>
<rect x="648.58" y="917.06" width="5.20" height="94.94" fill="#333333"/>
<line x1="413.90" y1="941.25" x2="654.58" y2="941.25" stroke="#b8121a" stroke-width="1.9" stroke-dasharray="4.5 3.6"/>
<line x1="412.40" y1="848.60" x2="412.40" y2="1013.00" stroke="#111" stroke-width="2"/>
<line x1="407.90" y1="1012.00" x2="412.40" y2="1012.00" stroke="#111" stroke-width="1.3"/>
<text x="406.40" y="1014.40" font-size="6.7" font-weight="bold" text-anchor="end" fill="#111">0</text>
<line x1="407.90" y1="979.32" x2="412.40" y2="979.32" stroke="#111" stroke-width="1.3"/>
<text x="406.40" y="981.72" font-size="6.7" font-weight="bold" text-anchor="end" fill="#111">20</text>
<line x1="407.90" y1="946.64" x2="412.40" y2="946.64" stroke="#111" stroke-width="1.3"/>
<text x="406.40" y="949.04" font-size="6.7" font-weight="bold" text-anchor="end" fill="#111">40</text>
<line x1="407.90" y1="913.96" x2="412.40" y2="913.96" stroke="#111" stroke-width="1.3"/>
<text x="406.40" y="916.36" font-size="6.7" font-weight="bold" text-anchor="end" fill="#111">60</text>
<line x1="407.90" y1="881.28" x2="412.40" y2="881.28" stroke="#111" stroke-width="1.3"/>
<text x="406.40" y="883.68" font-size="6.7" font-weight="bold" text-anchor="end" fill="#111">80</text>
<line x1="407.90" y1="848.60" x2="412.40" y2="848.60" stroke="#111" stroke-width="1.3"/>
<text x="406.40" y="851.00" font-size="6.7" font-weight="bold" text-anchor="end" fill="#111">100</text>
<line x1="411.40" y1="1012.00" x2="656.58" y2="1012.00" stroke="#111" stroke-width="2"/>
<line x1="420.10" y1="1012.00" x2="420.10" y2="1016.50" stroke="#111" stroke-width="1.3"/>
<line x1="436.42" y1="1012.00" x2="436.42" y2="1016.50" stroke="#111" stroke-width="1.3"/>
<text x="436.42" y="1025.30" font-size="6.6" font-weight="bold" text-anchor="middle" fill="#111">1</text>
<line x1="452.74" y1="1012.00" x2="452.74" y2="1016.50" stroke="#111" stroke-width="1.3"/>
<text x="452.74" y="1025.30" font-size="6.6" font-weight="bold" text-anchor="middle" fill="#111">2</text>
<line x1="469.06" y1="1012.00" x2="469.06" y2="1016.50" stroke="#111" stroke-width="1.3"/>
<text x="469.06" y="1025.30" font-size="6.6" font-weight="bold" text-anchor="middle" fill="#111">3</text>
<line x1="485.38" y1="1012.00" x2="485.38" y2="1016.50" stroke="#111" stroke-width="1.3"/>
<text x="485.38" y="1025.30" font-size="6.6" font-weight="bold" text-anchor="middle" fill="#111">4</text>
<line x1="501.70" y1="1012.00" x2="501.70" y2="1016.50" stroke="#111" stroke-width="1.3"/>
<text x="501.70" y="1025.30" font-size="6.6" font-weight="bold" text-anchor="middle" fill="#111">5</text>
<line x1="518.02" y1="1012.00" x2="518.02" y2="1016.50" stroke="#111" stroke-width="1.3"/>
<text x="518.02" y="1025.30" font-size="6.6" font-weight="bold" text-anchor="middle" fill="#111">6</text>
<line x1="534.34" y1="1012.00" x2="534.34" y2="1016.50" stroke="#111" stroke-width="1.3"/>
<text x="534.34" y="1025.30" font-size="6.6" font-weight="bold" text-anchor="middle" fill="#111">7</text>
<line x1="550.66" y1="1012.00" x2="550.66" y2="1016.50" stroke="#111" stroke-width="1.3"/>
<text x="550.66" y="1025.30" font-size="6.6" font-weight="bold" text-anchor="middle" fill="#111">8</text>
<line x1="566.98" y1="1012.00" x2="566.98" y2="1016.50" stroke="#111" stroke-width="1.3"/>
<text x="566.98" y="1025.30" font-size="6.6" font-weight="bold" text-anchor="middle" fill="#111">9</text>
<line x1="583.30" y1="1012.00" x2="583.30" y2="1016.50" stroke="#111" stroke-width="1.3"/>
<text x="583.30" y="1025.30" font-size="6.6" font-weight="bold" text-anchor="middle" fill="#111">10</text>
<line x1="599.62" y1="1012.00" x2="599.62" y2="1016.50" stroke="#111" stroke-width="1.3"/>
<text x="599.62" y="1025.30" font-size="6.6" font-weight="bold" text-anchor="middle" fill="#111">11</text>
<line x1="615.94" y1="1012.00" x2="615.94" y2="1016.50" stroke="#111" stroke-width="1.3"/>
<text x="615.94" y="1025.30" font-size="6.6" font-weight="bold" text-anchor="middle" fill="#111">12</text>
<line x1="632.26" y1="1012.00" x2="632.26" y2="1016.50" stroke="#111" stroke-width="1.3"/>
<text x="632.26" y="1025.30" font-size="6.6" font-weight="bold" text-anchor="middle" fill="#111">13</text>
<line x1="648.58" y1="1012.00" x2="648.58" y2="1016.50" stroke="#111" stroke-width="1.3"/>
<text x="648.58" y="1025.30" font-size="6.6" font-weight="bold" text-anchor="middle" fill="#111">14</text>
<text x="432.10" y="1025.30" font-size="6.6" font-weight="bold" text-anchor="end" fill="#111">Baseline</text>
<text x="658.58" y="1020.70" font-size="10.1" font-weight="bold" text-anchor="start" fill="#111">(Day)</text>
<text x="394.90" y="933.30" font-size="9.8" font-weight="bold" text-anchor="middle" fill="#111" transform="rotate(-90 394.90 933.30)" textLength="147.5" lengthAdjust="spacingAndGlyphs">Energy expenditure (% of 24 h)</text>
<text x="436.90" y="925.90" font-size="10.5" font-weight="bold" text-anchor="middle" fill="#222">**</text>
<text x="453.30" y="924.50" font-size="10.5" font-weight="bold" text-anchor="middle" fill="#222">***</text>
<text x="470.30" y="924.90" font-size="10.5" font-weight="bold" text-anchor="middle" fill="#222">**</text>
<text x="485.90" y="923.00" font-size="10.5" font-weight="bold" text-anchor="middle" fill="#222">**</text>
<text x="553.10" y="912.20" font-size="10.5" font-weight="bold" text-anchor="middle" fill="#222">*</text>
<text x="602.10" y="913.00" font-size="10.5" font-weight="bold" text-anchor="middle" fill="#222">*</text>
<text x="634.40" y="911.30" font-size="10.5" font-weight="bold" text-anchor="middle" fill="#222">*</text>
<text x="410.40" y="1087.80" font-size="16" font-weight="normal" text-anchor="start" fill="#000">J</text>
<line x1="416.10" y1="1215.14" x2="416.10" y2="1213.51" stroke="#333" stroke-width="1"/>
<line x1="414.60" y1="1213.51" x2="417.60" y2="1213.51" stroke="#333" stroke-width="1"/>
<rect x="413.70" y="1215.14" width="4.80" height="57.15" fill="#d9d9d9" stroke="#3a3a3a" stroke-width="1"/>
<line x1="421.60" y1="1194.32" x2="421.60" y2="1193.10" stroke="#333" stroke-width="1"/>
<line x1="420.10" y1="1193.10" x2="423.10" y2="1193.10" stroke="#333" stroke-width="1"/>
<rect x="419.00" y="1194.32" width="5.20" height="77.98" fill="#333333"/>
<line x1="432.42" y1="1197.18" x2="432.42" y2="1195.96" stroke="#333" stroke-width="1"/>
<line x1="430.92" y1="1195.96" x2="433.92" y2="1195.96" stroke="#333" stroke-width="1"/>
<rect x="430.02" y="1197.18" width="4.80" height="75.12" fill="#d9d9d9" stroke="#3a3a3a" stroke-width="1"/>
<line x1="437.92" y1="1220.04" x2="437.92" y2="1218.41" stroke="#333" stroke-width="1"/>
<line x1="436.42" y1="1218.41" x2="439.42" y2="1218.41" stroke="#333" stroke-width="1"/>
<rect x="435.32" y="1220.04" width="5.20" height="52.26" fill="#333333"/>
<line x1="448.74" y1="1198.82" x2="448.74" y2="1196.77" stroke="#333" stroke-width="1"/>
<line x1="447.24" y1="1196.77" x2="450.24" y2="1196.77" stroke="#333" stroke-width="1"/>
<rect x="446.34" y="1198.82" width="4.80" height="73.48" fill="#d9d9d9" stroke="#3a3a3a" stroke-width="1"/>
<line x1="454.24" y1="1215.55" x2="454.24" y2="1214.33" stroke="#333" stroke-width="1"/>
<line x1="452.74" y1="1214.33" x2="455.74" y2="1214.33" stroke="#333" stroke-width="1"/>
<rect x="451.64" y="1215.55" width="5.20" height="56.75" fill="#333333"/>
<line x1="465.06" y1="1207.80" x2="465.06" y2="1204.53" stroke="#333" stroke-width="1"/>
<line x1="463.56" y1="1204.53" x2="466.56" y2="1204.53" stroke="#333" stroke-width="1"/>
<rect x="462.66" y="1207.80" width="4.80" height="64.50" fill="#d9d9d9" stroke="#3a3a3a" stroke-width="1"/>
<line x1="470.56" y1="1210.25" x2="470.56" y2="1207.39" stroke="#333" stroke-width="1"/>
<line x1="469.06" y1="1207.39" x2="472.06" y2="1207.39" stroke="#333" stroke-width="1"/>
<rect x="467.96" y="1210.25" width="5.20" height="62.05" fill="#333333"/>
<line x1="481.38" y1="1210.65" x2="481.38" y2="1207.39" stroke="#333" stroke-width="1"/>
<line x1="479.88" y1="1207.39" x2="482.88" y2="1207.39" stroke="#333" stroke-width="1"/>
<rect x="478.98" y="1210.65" width="4.80" height="61.65" fill="#d9d9d9" stroke="#3a3a3a" stroke-width="1"/>
<line x1="486.88" y1="1210.65" x2="486.88" y2="1206.16" stroke="#333" stroke-width="1"/>
<line x1="485.38" y1="1206.16" x2="488.38" y2="1206.16" stroke="#333" stroke-width="1"/>
<rect x="484.28" y="1210.65" width="5.20" height="61.65" fill="#333333"/>
<line x1="497.70" y1="1207.39" x2="497.70" y2="1205.76" stroke="#333" stroke-width="1"/>
<line x1="496.20" y1="1205.76" x2="499.20" y2="1205.76" stroke="#333" stroke-width="1"/>
<rect x="495.30" y="1207.39" width="4.80" height="64.91" fill="#d9d9d9" stroke="#3a3a3a" stroke-width="1"/>
<line x1="503.20" y1="1201.26" x2="503.20" y2="1198.82" stroke="#333" stroke-width="1"/>
<line x1="501.70" y1="1198.82" x2="504.70" y2="1198.82" stroke="#333" stroke-width="1"/>
<rect x="500.60" y="1201.26" width="5.20" height="71.04" fill="#333333"/>
<line x1="514.02" y1="1204.12" x2="514.02" y2="1199.63" stroke="#333" stroke-width="1"/>
<line x1="512.52" y1="1199.63" x2="515.52" y2="1199.63" stroke="#333" stroke-width="1"/>
<rect x="511.62" y="1204.12" width="4.80" height="68.18" fill="#d9d9d9" stroke="#3a3a3a" stroke-width="1"/>
<line x1="519.52" y1="1195.14" x2="519.52" y2="1191.47" stroke="#333" stroke-width="1"/>
<line x1="518.02" y1="1191.47" x2="521.02" y2="1191.47" stroke="#333" stroke-width="1"/>
<rect x="516.92" y="1195.14" width="5.20" height="77.16" fill="#333333"/>
<line x1="530.34" y1="1226.98" x2="530.34" y2="1220.04" stroke="#333" stroke-width="1"/>
<line x1="528.84" y1="1220.04" x2="531.84" y2="1220.04" stroke="#333" stroke-width="1"/>
<rect x="527.94" y="1226.98" width="4.80" height="45.32" fill="#d9d9d9" stroke="#3a3a3a" stroke-width="1"/>
<line x1="535.84" y1="1199.22" x2="535.84" y2="1196.77" stroke="#333" stroke-width="1"/>
<line x1="534.34" y1="1196.77" x2="537.34" y2="1196.77" stroke="#333" stroke-width="1"/>
<rect x="533.24" y="1199.22" width="5.20" height="73.08" fill="#333333"/>
<line x1="546.66" y1="1228.21" x2="546.66" y2="1218.41" stroke="#333" stroke-width="1"/>
<line x1="545.16" y1="1218.41" x2="548.16" y2="1218.41" stroke="#333" stroke-width="1"/>
<rect x="544.26" y="1228.21" width="4.80" height="44.09" fill="#d9d9d9" stroke="#3a3a3a" stroke-width="1"/>
<line x1="552.16" y1="1213.92" x2="552.16" y2="1204.94" stroke="#333" stroke-width="1"/>
<line x1="550.66" y1="1204.94" x2="553.66" y2="1204.94" stroke="#333" stroke-width="1"/>
<rect x="549.56" y="1213.92" width="5.20" height="58.38" fill="#333333"/>
<line x1="562.98" y1="1235.97" x2="562.98" y2="1225.76" stroke="#333" stroke-width="1"/>
<line x1="561.48" y1="1225.76" x2="564.48" y2="1225.76" stroke="#333" stroke-width="1"/>
<rect x="560.58" y="1235.97" width="4.80" height="36.33" fill="#d9d9d9" stroke="#3a3a3a" stroke-width="1"/>
<line x1="568.48" y1="1208.61" x2="568.48" y2="1199.22" stroke="#333" stroke-width="1"/>
<line x1="566.98" y1="1199.22" x2="569.98" y2="1199.22" stroke="#333" stroke-width="1"/>
<rect x="565.88" y="1208.61" width="5.20" height="63.69" fill="#333333"/>
<line x1="579.30" y1="1228.21" x2="579.30" y2="1217.19" stroke="#333" stroke-width="1"/>
<line x1="577.80" y1="1217.19" x2="580.80" y2="1217.19" stroke="#333" stroke-width="1"/>
<rect x="576.90" y="1228.21" width="4.80" height="44.09" fill="#d9d9d9" stroke="#3a3a3a" stroke-width="1"/>
<line x1="584.80" y1="1210.25" x2="584.80" y2="1198.82" stroke="#333" stroke-width="1"/>
<line x1="583.30" y1="1198.82" x2="586.30" y2="1198.82" stroke="#333" stroke-width="1"/>
<rect x="582.20" y="1210.25" width="5.20" height="62.05" fill="#333333"/>
<line x1="595.62" y1="1231.47" x2="595.62" y2="1221.68" stroke="#333" stroke-width="1"/>
<line x1="594.12" y1="1221.68" x2="597.12" y2="1221.68" stroke="#333" stroke-width="1"/>
<rect x="593.22" y="1231.47" width="4.80" height="40.83" fill="#d9d9d9" stroke="#3a3a3a" stroke-width="1"/>
<line x1="601.12" y1="1208.61" x2="601.12" y2="1196.37" stroke="#333" stroke-width="1"/>
<line x1="599.62" y1="1196.37" x2="602.62" y2="1196.37" stroke="#333" stroke-width="1"/>
<rect x="598.52" y="1208.61" width="5.20" height="63.69" fill="#333333"/>
<line x1="611.94" y1="1221.27" x2="611.94" y2="1215.55" stroke="#333" stroke-width="1"/>
<line x1="610.44" y1="1215.55" x2="613.44" y2="1215.55" stroke="#333" stroke-width="1"/>
<rect x="609.54" y="1221.27" width="4.80" height="51.03" fill="#d9d9d9" stroke="#3a3a3a" stroke-width="1"/>
<line x1="617.44" y1="1196.77" x2="617.44" y2="1194.32" stroke="#333" stroke-width="1"/>
<line x1="615.94" y1="1194.32" x2="618.94" y2="1194.32" stroke="#333" stroke-width="1"/>
<rect x="614.84" y="1196.77" width="5.20" height="75.53" fill="#333333"/>
<line x1="628.26" y1="1222.90" x2="628.26" y2="1221.27" stroke="#333" stroke-width="1"/>
<line x1="626.76" y1="1221.27" x2="629.76" y2="1221.27" stroke="#333" stroke-width="1"/>
<rect x="625.86" y="1222.90" width="4.80" height="49.40" fill="#d9d9d9" stroke="#3a3a3a" stroke-width="1"/>
<line x1="633.76" y1="1196.37" x2="633.76" y2="1193.92" stroke="#333" stroke-width="1"/>
<line x1="632.26" y1="1193.92" x2="635.26" y2="1193.92" stroke="#333" stroke-width="1"/>
<rect x="631.16" y="1196.37" width="5.20" height="75.93" fill="#333333"/>
<line x1="644.58" y1="1221.68" x2="644.58" y2="1216.78" stroke="#333" stroke-width="1"/>
<line x1="643.08" y1="1216.78" x2="646.08" y2="1216.78" stroke="#333" stroke-width="1"/>
<rect x="642.18" y="1221.68" width="4.80" height="50.62" fill="#d9d9d9" stroke="#3a3a3a" stroke-width="1"/>
<line x1="650.08" y1="1197.59" x2="650.08" y2="1194.32" stroke="#333" stroke-width="1"/>
<line x1="648.58" y1="1194.32" x2="651.58" y2="1194.32" stroke="#333" stroke-width="1"/>
<rect x="647.48" y="1197.59" width="5.20" height="74.71" fill="#333333"/>
<line x1="412.40" y1="1213.92" x2="653.48" y2="1213.92" stroke="#b8121a" stroke-width="1.9" stroke-dasharray="4.5 3.6"/>
<line x1="410.90" y1="1109.00" x2="410.90" y2="1273.30" stroke="#111" stroke-width="2"/>
<line x1="406.40" y1="1272.30" x2="410.90" y2="1272.30" stroke="#111" stroke-width="1.3"/>
<text x="404.90" y="1274.70" font-size="6.7" font-weight="bold" text-anchor="end" fill="#111">0.8</text>
<line x1="406.40" y1="1231.47" x2="410.90" y2="1231.47" stroke="#111" stroke-width="1.3"/>
<text x="404.90" y="1233.88" font-size="6.7" font-weight="bold" text-anchor="end" fill="#111">0.9</text>
<line x1="406.40" y1="1190.65" x2="410.90" y2="1190.65" stroke="#111" stroke-width="1.3"/>
<text x="404.90" y="1193.05" font-size="6.7" font-weight="bold" text-anchor="end" fill="#111">1.0</text>
<line x1="406.40" y1="1149.83" x2="410.90" y2="1149.83" stroke="#111" stroke-width="1.3"/>
<text x="404.90" y="1152.23" font-size="6.7" font-weight="bold" text-anchor="end" fill="#111">1.1</text>
<line x1="406.40" y1="1109.00" x2="410.90" y2="1109.00" stroke="#111" stroke-width="1.3"/>
<text x="404.90" y="1111.40" font-size="6.7" font-weight="bold" text-anchor="end" fill="#111">1.2</text>
<line x1="409.90" y1="1272.30" x2="655.48" y2="1272.30" stroke="#111" stroke-width="2"/>
<line x1="419.00" y1="1272.30" x2="419.00" y2="1276.80" stroke="#111" stroke-width="1.3"/>
<line x1="435.32" y1="1272.30" x2="435.32" y2="1276.80" stroke="#111" stroke-width="1.3"/>
<text x="435.32" y="1286.00" font-size="6.6" font-weight="bold" text-anchor="middle" fill="#111">1</text>
<line x1="451.64" y1="1272.30" x2="451.64" y2="1276.80" stroke="#111" stroke-width="1.3"/>
<text x="451.64" y="1286.00" font-size="6.6" font-weight="bold" text-anchor="middle" fill="#111">2</text>
<line x1="467.96" y1="1272.30" x2="467.96" y2="1276.80" stroke="#111" stroke-width="1.3"/>
<text x="467.96" y="1286.00" font-size="6.6" font-weight="bold" text-anchor="middle" fill="#111">3</text>
<line x1="484.28" y1="1272.30" x2="484.28" y2="1276.80" stroke="#111" stroke-width="1.3"/>
<text x="484.28" y="1286.00" font-size="6.6" font-weight="bold" text-anchor="middle" fill="#111">4</text>
<line x1="500.60" y1="1272.30" x2="500.60" y2="1276.80" stroke="#111" stroke-width="1.3"/>
<text x="500.60" y="1286.00" font-size="6.6" font-weight="bold" text-anchor="middle" fill="#111">5</text>
<line x1="516.92" y1="1272.30" x2="516.92" y2="1276.80" stroke="#111" stroke-width="1.3"/>
<text x="516.92" y="1286.00" font-size="6.6" font-weight="bold" text-anchor="middle" fill="#111">6</text>
<line x1="533.24" y1="1272.30" x2="533.24" y2="1276.80" stroke="#111" stroke-width="1.3"/>
<text x="533.24" y="1286.00" font-size="6.6" font-weight="bold" text-anchor="middle" fill="#111">7</text>
<line x1="549.56" y1="1272.30" x2="549.56" y2="1276.80" stroke="#111" stroke-width="1.3"/>
<text x="549.56" y="1286.00" font-size="6.6" font-weight="bold" text-anchor="middle" fill="#111">8</text>
<line x1="565.88" y1="1272.30" x2="565.88" y2="1276.80" stroke="#111" stroke-width="1.3"/>
<text x="565.88" y="1286.00" font-size="6.6" font-weight="bold" text-anchor="middle" fill="#111">9</text>
<line x1="582.20" y1="1272.30" x2="582.20" y2="1276.80" stroke="#111" stroke-width="1.3"/>
<text x="582.20" y="1286.00" font-size="6.6" font-weight="bold" text-anchor="middle" fill="#111">10</text>
<line x1="598.52" y1="1272.30" x2="598.52" y2="1276.80" stroke="#111" stroke-width="1.3"/>
<text x="598.52" y="1286.00" font-size="6.6" font-weight="bold" text-anchor="middle" fill="#111">11</text>
<line x1="614.84" y1="1272.30" x2="614.84" y2="1276.80" stroke="#111" stroke-width="1.3"/>
<text x="614.84" y="1286.00" font-size="6.6" font-weight="bold" text-anchor="middle" fill="#111">12</text>
<line x1="631.16" y1="1272.30" x2="631.16" y2="1276.80" stroke="#111" stroke-width="1.3"/>
<text x="631.16" y="1286.00" font-size="6.6" font-weight="bold" text-anchor="middle" fill="#111">13</text>
<line x1="647.48" y1="1272.30" x2="647.48" y2="1276.80" stroke="#111" stroke-width="1.3"/>
<text x="647.48" y="1286.00" font-size="6.6" font-weight="bold" text-anchor="middle" fill="#111">14</text>
<text x="431.00" y="1286.00" font-size="6.6" font-weight="bold" text-anchor="end" fill="#111">Baseline</text>
<text x="657.48" y="1281.00" font-size="10.1" font-weight="bold" text-anchor="start" fill="#111">(Day)</text>
<text x="388.10" y="1193.40" font-size="10" font-weight="bold" text-anchor="middle" fill="#111" transform="rotate(-90 388.10 1193.40)" textLength="20.9" lengthAdjust="spacingAndGlyphs">RER</text>
<text x="435.50" y="1193.50" font-size="10.5" font-weight="bold" text-anchor="middle" fill="#222">***</text>
<text x="452.60" y="1193.00" font-size="10.5" font-weight="bold" text-anchor="middle" fill="#222">***</text>
<text x="468.30" y="1203.00" font-size="10.5" font-weight="bold" text-anchor="middle" fill="#222">***</text>
<text x="484.50" y="1204.50" font-size="10.5" font-weight="bold" text-anchor="middle" fill="#222">**</text>
<text x="500.00" y="1196.80" font-size="10.5" font-weight="bold" text-anchor="middle" fill="#222">**</text>
<text x="549.30" y="1204.40" font-size="10.5" font-weight="bold" text-anchor="middle" fill="#222">*</text></svg>
</body></html>
